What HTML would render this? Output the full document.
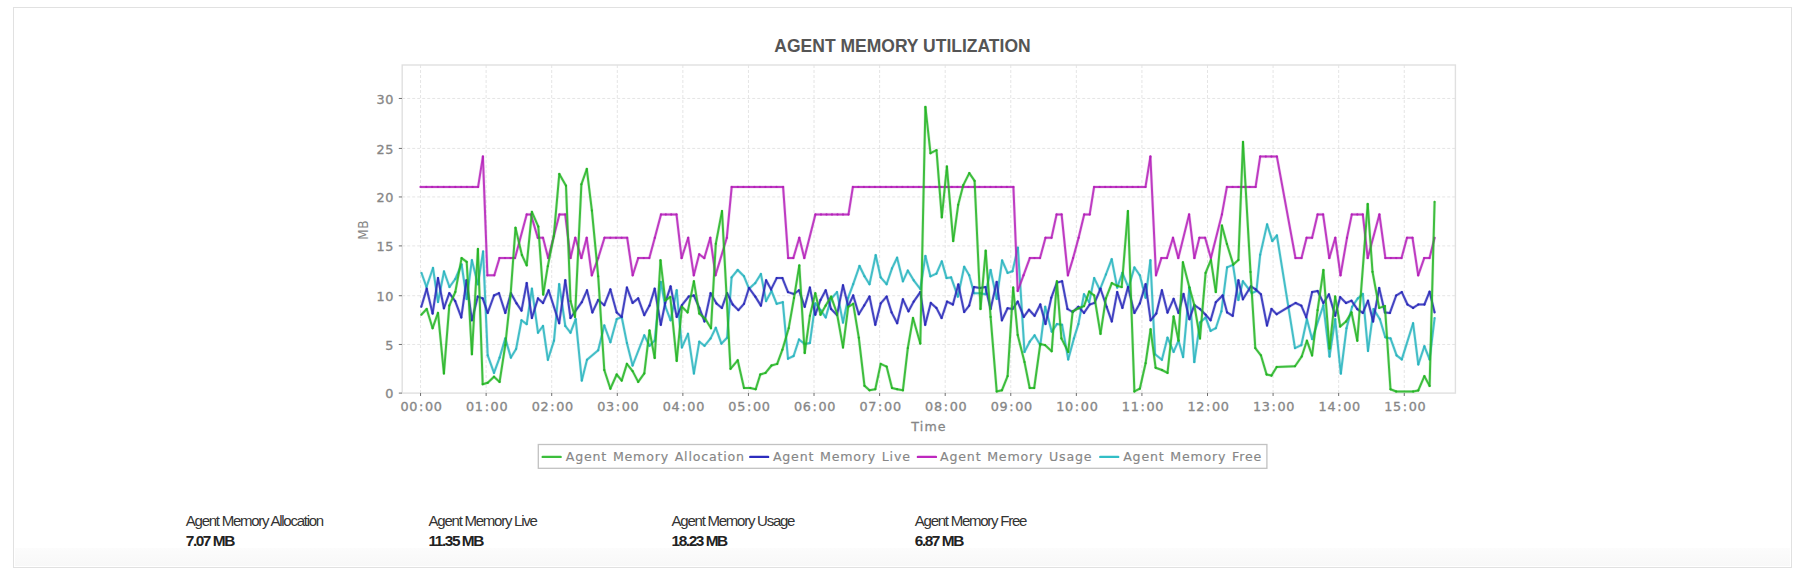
<!DOCTYPE html>
<html><head><meta charset="utf-8"><title>Agent Memory Utilization</title>
<style>
html,body{margin:0;padding:0;background:#fff;}
body{width:1804px;height:580px;position:relative;overflow:hidden;}
.box{position:absolute;left:13px;top:7px;width:1777px;height:559px;border:1px solid #e1e1e1;background:#fff;}
.band{position:absolute;left:15px;top:548px;width:1775px;height:18px;background:linear-gradient(to bottom,#fcfcfc,#f8f8f8);}
</style></head><body>
<div class="box"></div>
<div class="band"></div>
<svg width="1804" height="580" viewBox="0 0 1804 580" style="position:absolute;left:0;top:0"><text x="902.5" y="51.6" text-anchor="middle" font-family="Liberation Sans, Arial, sans-serif" font-weight="bold" font-size="17.5" fill="#555">AGENT MEMORY UTILIZATION</text><g><g stroke="#e5e5e5" stroke-width="1" stroke-dasharray="3,2" fill="none"><line x1="402.2" y1="344.46" x2="1455.4" y2="344.46"/><line x1="402.2" y1="295.73" x2="1455.4" y2="295.73"/><line x1="402.2" y1="245.9" x2="1455.4" y2="245.9"/><line x1="402.2" y1="196.94" x2="1455.4" y2="196.94"/><line x1="402.2" y1="148.42" x2="1455.4" y2="148.42"/><line x1="402.2" y1="98.46" x2="1455.4" y2="98.46"/><line x1="420.55" y1="65.0" x2="420.55" y2="393.1"/><line x1="486.13" y1="65.0" x2="486.13" y2="393.1"/><line x1="551.71" y1="65.0" x2="551.71" y2="393.1"/><line x1="617.29" y1="65.0" x2="617.29" y2="393.1"/><line x1="682.87" y1="65.0" x2="682.87" y2="393.1"/><line x1="748.45" y1="65.0" x2="748.45" y2="393.1"/><line x1="814.03" y1="65.0" x2="814.03" y2="393.1"/><line x1="879.61" y1="65.0" x2="879.61" y2="393.1"/><line x1="945.19" y1="65.0" x2="945.19" y2="393.1"/><line x1="1010.77" y1="65.0" x2="1010.77" y2="393.1"/><line x1="1076.35" y1="65.0" x2="1076.35" y2="393.1"/><line x1="1141.93" y1="65.0" x2="1141.93" y2="393.1"/><line x1="1207.51" y1="65.0" x2="1207.51" y2="393.1"/><line x1="1273.09" y1="65.0" x2="1273.09" y2="393.1"/><line x1="1338.67" y1="65.0" x2="1338.67" y2="393.1"/><line x1="1404.25" y1="65.0" x2="1404.25" y2="393.1"/></g><rect x="402.2" y="65.0" width="1053.2" height="328.1" fill="none" stroke="#e0e0e0" stroke-width="1.4"/><g stroke="#707070" stroke-width="1"><line x1="398.8" y1="393.1" x2="402" y2="393.1"/><line x1="398.8" y1="344.46" x2="402" y2="344.46"/><line x1="398.8" y1="295.73" x2="402" y2="295.73"/><line x1="398.8" y1="245.9" x2="402" y2="245.9"/><line x1="398.8" y1="196.94" x2="402" y2="196.94"/><line x1="398.8" y1="148.42" x2="402" y2="148.42"/><line x1="398.8" y1="98.46" x2="402" y2="98.46"/><line x1="420.55" y1="393" x2="420.55" y2="396"/><line x1="486.13" y1="393" x2="486.13" y2="396"/><line x1="551.71" y1="393" x2="551.71" y2="396"/><line x1="617.29" y1="393" x2="617.29" y2="396"/><line x1="682.87" y1="393" x2="682.87" y2="396"/><line x1="748.45" y1="393" x2="748.45" y2="396"/><line x1="814.03" y1="393" x2="814.03" y2="396"/><line x1="879.61" y1="393" x2="879.61" y2="396"/><line x1="945.19" y1="393" x2="945.19" y2="396"/><line x1="1010.77" y1="393" x2="1010.77" y2="396"/><line x1="1076.35" y1="393" x2="1076.35" y2="396"/><line x1="1141.93" y1="393" x2="1141.93" y2="396"/><line x1="1207.51" y1="393" x2="1207.51" y2="396"/><line x1="1273.09" y1="393" x2="1273.09" y2="396"/><line x1="1338.67" y1="393" x2="1338.67" y2="396"/><line x1="1404.25" y1="393" x2="1404.25" y2="396"/></g><g font-family="DejaVu Sans, sans-serif" stroke="#868686" stroke-width="0.3"><text transform="translate(393.98,398.40) scale(1.1,1)" text-anchor="end" font-size="11.6" fill="#868686" letter-spacing="0.62" >0</text><text transform="translate(393.98,349.76) scale(1.1,1)" text-anchor="end" font-size="11.6" fill="#868686" letter-spacing="0.62" >5</text><text transform="translate(393.98,301.03) scale(1.1,1)" text-anchor="end" font-size="11.6" fill="#868686" letter-spacing="0.62" >10</text><text transform="translate(393.98,251.20) scale(1.1,1)" text-anchor="end" font-size="11.6" fill="#868686" letter-spacing="0.62" >15</text><text transform="translate(393.98,202.24) scale(1.1,1)" text-anchor="end" font-size="11.6" fill="#868686" letter-spacing="0.62" >20</text><text transform="translate(393.98,153.72) scale(1.1,1)" text-anchor="end" font-size="11.6" fill="#868686" letter-spacing="0.62" >25</text><text transform="translate(393.98,103.76) scale(1.1,1)" text-anchor="end" font-size="11.6" fill="#868686" letter-spacing="0.62" >30</text><text transform="translate(421.55,410.60) scale(1.1,1)" text-anchor="middle" font-size="11.6" fill="#868686" letter-spacing="0.62" >00<tspan dx="0.9">:</tspan><tspan dx="0.9">00</tspan></text><text transform="translate(487.13,410.60) scale(1.1,1)" text-anchor="middle" font-size="11.6" fill="#868686" letter-spacing="0.62" >01<tspan dx="0.9">:</tspan><tspan dx="0.9">00</tspan></text><text transform="translate(552.71,410.60) scale(1.1,1)" text-anchor="middle" font-size="11.6" fill="#868686" letter-spacing="0.62" >02<tspan dx="0.9">:</tspan><tspan dx="0.9">00</tspan></text><text transform="translate(618.29,410.60) scale(1.1,1)" text-anchor="middle" font-size="11.6" fill="#868686" letter-spacing="0.62" >03<tspan dx="0.9">:</tspan><tspan dx="0.9">00</tspan></text><text transform="translate(683.87,410.60) scale(1.1,1)" text-anchor="middle" font-size="11.6" fill="#868686" letter-spacing="0.62" >04<tspan dx="0.9">:</tspan><tspan dx="0.9">00</tspan></text><text transform="translate(749.45,410.60) scale(1.1,1)" text-anchor="middle" font-size="11.6" fill="#868686" letter-spacing="0.62" >05<tspan dx="0.9">:</tspan><tspan dx="0.9">00</tspan></text><text transform="translate(815.03,410.60) scale(1.1,1)" text-anchor="middle" font-size="11.6" fill="#868686" letter-spacing="0.62" >06<tspan dx="0.9">:</tspan><tspan dx="0.9">00</tspan></text><text transform="translate(880.61,410.60) scale(1.1,1)" text-anchor="middle" font-size="11.6" fill="#868686" letter-spacing="0.62" >07<tspan dx="0.9">:</tspan><tspan dx="0.9">00</tspan></text><text transform="translate(946.19,410.60) scale(1.1,1)" text-anchor="middle" font-size="11.6" fill="#868686" letter-spacing="0.62" >08<tspan dx="0.9">:</tspan><tspan dx="0.9">00</tspan></text><text transform="translate(1011.77,410.60) scale(1.1,1)" text-anchor="middle" font-size="11.6" fill="#868686" letter-spacing="0.62" >09<tspan dx="0.9">:</tspan><tspan dx="0.9">00</tspan></text><text transform="translate(1077.35,410.60) scale(1.1,1)" text-anchor="middle" font-size="11.6" fill="#868686" letter-spacing="0.62" >10<tspan dx="0.9">:</tspan><tspan dx="0.9">00</tspan></text><text transform="translate(1142.93,410.60) scale(1.1,1)" text-anchor="middle" font-size="11.6" fill="#868686" letter-spacing="0.62" >11<tspan dx="0.9">:</tspan><tspan dx="0.9">00</tspan></text><text transform="translate(1208.51,410.60) scale(1.1,1)" text-anchor="middle" font-size="11.6" fill="#868686" letter-spacing="0.62" >12<tspan dx="0.9">:</tspan><tspan dx="0.9">00</tspan></text><text transform="translate(1274.09,410.60) scale(1.1,1)" text-anchor="middle" font-size="11.6" fill="#868686" letter-spacing="0.62" >13<tspan dx="0.9">:</tspan><tspan dx="0.9">00</tspan></text><text transform="translate(1339.67,410.60) scale(1.1,1)" text-anchor="middle" font-size="11.6" fill="#868686" letter-spacing="0.62" >14<tspan dx="0.9">:</tspan><tspan dx="0.9">00</tspan></text><text transform="translate(1405.25,410.60) scale(1.1,1)" text-anchor="middle" font-size="11.6" fill="#868686" letter-spacing="0.62" >15<tspan dx="0.9">:</tspan><tspan dx="0.9">00</tspan></text><text transform="translate(929.00,430.90) scale(1.0,1)" text-anchor="middle" font-size="12.6" fill="#868686" letter-spacing="1.15" >Time</text></g><text transform="translate(367.6,229.8) scale(1.1,1) rotate(-90)" text-anchor="middle" font-family="DejaVu Sans, sans-serif" font-size="12.1" fill="#868686" letter-spacing="0.62">MB</text><polyline points="421.5,273.0 426.5,287.0 433.0,268.0 438.0,302.0 444.0,271.5 449.5,287.0 455.3,279.0 461.6,264.5 466.7,299.0 471.9,260.2 477.9,284.3 483.1,251.6 487.7,355.3 494.0,372.9 499.6,357.6 505.3,338.4 510.9,357.6 516.1,349.0 521.5,320.3 526.7,324.1 531.9,288.7 538.0,332.7 543.0,326.0 547.9,359.8 554.0,340.6 559.2,284.2 565.3,326.0 570.5,332.7 575.7,319.2 581.8,380.6 587.0,359.8 598.2,350.3 604.3,325.5 610.4,342.2 616.7,319.2 621.7,317.0 626.9,342.9 632.6,365.5 644.3,335.4 649.5,345.8 654.7,340.6 660.8,281.9 665.2,306.0 670.6,320.3 676.7,290.3 681.9,347.4 688.0,333.8 693.9,373.4 699.3,341.7 704.5,345.8 710.6,338.4 715.8,327.8 721.4,343.6 727.1,337.7 731.6,277.4 737.7,270.0 744.0,276.3 749.0,288.7 755.3,283.1 760.9,274.0 766.1,301.1 771.5,291.0 776.7,303.8 782.8,302.2 788.0,358.7 793.6,356.0 799.0,339.5 804.7,344.0 809.9,342.9 815.3,303.4 820.5,310.0 825.7,317.4 831.1,298.9 837.0,292.1 843.0,322.6 848.2,297.7 853.2,284.2 859.5,266.0 864.5,276.3 869.5,284.2 875.7,255.2 880.7,277.4 886.6,284.2 892.0,268.4 897.1,257.7 902.9,281.3 907.8,270.6 913.7,280.3 920.3,289.0 925.4,256.0 930.4,276.3 936.4,273.6 941.8,261.4 946.6,278.1 951.1,277.4 957.9,296.6 964.2,266.8 969.2,275.2 974.1,293.2 980.0,293.2 985.4,294.3 990.6,270.0 996.7,298.9 1002.1,260.5 1007.6,272.9 1012.5,271.3 1017.9,247.7 1024.5,351.9 1029.7,341.7 1034.6,335.4 1040.3,345.1 1045.2,306.8 1051.7,331.6 1056.9,324.1 1062.1,324.8 1068.2,359.4 1073.9,338.4 1078.4,324.1 1084.0,294.3 1089.2,302.2 1094.2,278.1 1099.8,289.8 1105.9,274.5 1111.7,259.2 1117.2,287.6 1122.4,272.9 1128.5,287.6 1134.4,267.5 1139.8,275.2 1145.6,297.7 1150.4,260.3 1155.1,354.2 1161.9,359.8 1167.5,337.7 1173.6,351.9 1178.5,340.6 1183.1,357.1 1189.4,287.6 1194.3,362.1 1200.0,322.6 1205.6,317.4 1210.6,330.9 1215.8,328.2 1221.4,311.3 1227.1,267.3 1233.0,264.8 1238.4,300.0 1242.9,281.3 1251.9,293.2 1256.4,291.0 1260.2,254.7 1267.1,224.4 1272.3,241.0 1276.9,235.5 1295.0,348.1 1301.3,345.2 1306.9,319.2 1312.1,339.1 1323.4,305.2 1329.5,356.5 1335.2,319.2 1340.8,373.5 1346.5,328.3 1352.1,306.8 1357.8,298.4 1362.8,293.9 1368.0,350.9 1373.6,309.1 1379.9,319.2 1385.3,337.3 1390.5,338.4 1396.6,355.4 1401.8,359.4 1413.1,323.3 1418.3,364.4 1424.4,346.3 1429.6,359.4 1434.6,318.1" fill="none" stroke="#28b4be" stroke-opacity="0.16" stroke-width="3.2" stroke-linejoin="round"/><g stroke="#28b4be" stroke-width="2" stroke-opacity="0.85" stroke-linecap="round" fill="none"><line x1="421.5" y1="273.0" x2="426.5" y2="287.0"/><line x1="426.5" y1="287.0" x2="433.0" y2="268.0"/><line x1="433.0" y1="268.0" x2="438.0" y2="302.0"/><line x1="438.0" y1="302.0" x2="444.0" y2="271.5"/><line x1="444.0" y1="271.5" x2="449.5" y2="287.0"/><line x1="449.5" y1="287.0" x2="455.3" y2="279.0"/><line x1="455.3" y1="279.0" x2="461.6" y2="264.5"/><line x1="461.6" y1="264.5" x2="466.7" y2="299.0"/><line x1="466.7" y1="299.0" x2="471.9" y2="260.2"/><line x1="471.9" y1="260.2" x2="477.9" y2="284.3"/><line x1="477.9" y1="284.3" x2="483.1" y2="251.6"/><line x1="483.1" y1="251.6" x2="487.7" y2="355.3"/><line x1="487.7" y1="355.3" x2="494.0" y2="372.9"/><line x1="494.0" y1="372.9" x2="499.6" y2="357.6"/><line x1="499.6" y1="357.6" x2="505.3" y2="338.4"/><line x1="505.3" y1="338.4" x2="510.9" y2="357.6"/><line x1="510.9" y1="357.6" x2="516.1" y2="349.0"/><line x1="516.1" y1="349.0" x2="521.5" y2="320.3"/><line x1="521.5" y1="320.3" x2="526.7" y2="324.1"/><line x1="526.7" y1="324.1" x2="531.9" y2="288.7"/><line x1="531.9" y1="288.7" x2="538.0" y2="332.7"/><line x1="538.0" y1="332.7" x2="543.0" y2="326.0"/><line x1="543.0" y1="326.0" x2="547.9" y2="359.8"/><line x1="547.9" y1="359.8" x2="554.0" y2="340.6"/><line x1="554.0" y1="340.6" x2="559.2" y2="284.2"/><line x1="559.2" y1="284.2" x2="565.3" y2="326.0"/><line x1="565.3" y1="326.0" x2="570.5" y2="332.7"/><line x1="570.5" y1="332.7" x2="575.7" y2="319.2"/><line x1="575.7" y1="319.2" x2="581.8" y2="380.6"/><line x1="581.8" y1="380.6" x2="587.0" y2="359.8"/><line x1="587.0" y1="359.8" x2="598.2" y2="350.3"/><line x1="598.2" y1="350.3" x2="604.3" y2="325.5"/><line x1="604.3" y1="325.5" x2="610.4" y2="342.2"/><line x1="610.4" y1="342.2" x2="616.7" y2="319.2"/><line x1="616.7" y1="319.2" x2="621.7" y2="317.0"/><line x1="621.7" y1="317.0" x2="626.9" y2="342.9"/><line x1="626.9" y1="342.9" x2="632.6" y2="365.5"/><line x1="632.6" y1="365.5" x2="644.3" y2="335.4"/><line x1="644.3" y1="335.4" x2="649.5" y2="345.8"/><line x1="649.5" y1="345.8" x2="654.7" y2="340.6"/><line x1="654.7" y1="340.6" x2="660.8" y2="281.9"/><line x1="660.8" y1="281.9" x2="665.2" y2="306.0"/><line x1="665.2" y1="306.0" x2="670.6" y2="320.3"/><line x1="670.6" y1="320.3" x2="676.7" y2="290.3"/><line x1="676.7" y1="290.3" x2="681.9" y2="347.4"/><line x1="681.9" y1="347.4" x2="688.0" y2="333.8"/><line x1="688.0" y1="333.8" x2="693.9" y2="373.4"/><line x1="693.9" y1="373.4" x2="699.3" y2="341.7"/><line x1="699.3" y1="341.7" x2="704.5" y2="345.8"/><line x1="704.5" y1="345.8" x2="710.6" y2="338.4"/><line x1="710.6" y1="338.4" x2="715.8" y2="327.8"/><line x1="715.8" y1="327.8" x2="721.4" y2="343.6"/><line x1="721.4" y1="343.6" x2="727.1" y2="337.7"/><line x1="727.1" y1="337.7" x2="731.6" y2="277.4"/><line x1="731.6" y1="277.4" x2="737.7" y2="270.0"/><line x1="737.7" y1="270.0" x2="744.0" y2="276.3"/><line x1="744.0" y1="276.3" x2="749.0" y2="288.7"/><line x1="749.0" y1="288.7" x2="755.3" y2="283.1"/><line x1="755.3" y1="283.1" x2="760.9" y2="274.0"/><line x1="760.9" y1="274.0" x2="766.1" y2="301.1"/><line x1="766.1" y1="301.1" x2="771.5" y2="291.0"/><line x1="771.5" y1="291.0" x2="776.7" y2="303.8"/><line x1="776.7" y1="303.8" x2="782.8" y2="302.2"/><line x1="782.8" y1="302.2" x2="788.0" y2="358.7"/><line x1="788.0" y1="358.7" x2="793.6" y2="356.0"/><line x1="793.6" y1="356.0" x2="799.0" y2="339.5"/><line x1="799.0" y1="339.5" x2="804.7" y2="344.0"/><line x1="804.7" y1="344.0" x2="809.9" y2="342.9"/><line x1="809.9" y1="342.9" x2="815.3" y2="303.4"/><line x1="815.3" y1="303.4" x2="820.5" y2="310.0"/><line x1="820.5" y1="310.0" x2="825.7" y2="317.4"/><line x1="825.7" y1="317.4" x2="831.1" y2="298.9"/><line x1="831.1" y1="298.9" x2="837.0" y2="292.1"/><line x1="837.0" y1="292.1" x2="843.0" y2="322.6"/><line x1="843.0" y1="322.6" x2="848.2" y2="297.7"/><line x1="848.2" y1="297.7" x2="853.2" y2="284.2"/><line x1="853.2" y1="284.2" x2="859.5" y2="266.0"/><line x1="859.5" y1="266.0" x2="864.5" y2="276.3"/><line x1="864.5" y1="276.3" x2="869.5" y2="284.2"/><line x1="869.5" y1="284.2" x2="875.7" y2="255.2"/><line x1="875.7" y1="255.2" x2="880.7" y2="277.4"/><line x1="880.7" y1="277.4" x2="886.6" y2="284.2"/><line x1="886.6" y1="284.2" x2="892.0" y2="268.4"/><line x1="892.0" y1="268.4" x2="897.1" y2="257.7"/><line x1="897.1" y1="257.7" x2="902.9" y2="281.3"/><line x1="902.9" y1="281.3" x2="907.8" y2="270.6"/><line x1="907.8" y1="270.6" x2="913.7" y2="280.3"/><line x1="913.7" y1="280.3" x2="920.3" y2="289.0"/><line x1="920.3" y1="289.0" x2="925.4" y2="256.0"/><line x1="925.4" y1="256.0" x2="930.4" y2="276.3"/><line x1="930.4" y1="276.3" x2="936.4" y2="273.6"/><line x1="936.4" y1="273.6" x2="941.8" y2="261.4"/><line x1="941.8" y1="261.4" x2="946.6" y2="278.1"/><line x1="946.6" y1="278.1" x2="951.1" y2="277.4"/><line x1="951.1" y1="277.4" x2="957.9" y2="296.6"/><line x1="957.9" y1="296.6" x2="964.2" y2="266.8"/><line x1="964.2" y1="266.8" x2="969.2" y2="275.2"/><line x1="969.2" y1="275.2" x2="974.1" y2="293.2"/><line x1="974.1" y1="293.2" x2="980.0" y2="293.2"/><line x1="980.0" y1="293.2" x2="985.4" y2="294.3"/><line x1="985.4" y1="294.3" x2="990.6" y2="270.0"/><line x1="990.6" y1="270.0" x2="996.7" y2="298.9"/><line x1="996.7" y1="298.9" x2="1002.1" y2="260.5"/><line x1="1002.1" y1="260.5" x2="1007.6" y2="272.9"/><line x1="1007.6" y1="272.9" x2="1012.5" y2="271.3"/><line x1="1012.5" y1="271.3" x2="1017.9" y2="247.7"/><line x1="1017.9" y1="247.7" x2="1024.5" y2="351.9"/><line x1="1024.5" y1="351.9" x2="1029.7" y2="341.7"/><line x1="1029.7" y1="341.7" x2="1034.6" y2="335.4"/><line x1="1034.6" y1="335.4" x2="1040.3" y2="345.1"/><line x1="1040.3" y1="345.1" x2="1045.2" y2="306.8"/><line x1="1045.2" y1="306.8" x2="1051.7" y2="331.6"/><line x1="1051.7" y1="331.6" x2="1056.9" y2="324.1"/><line x1="1056.9" y1="324.1" x2="1062.1" y2="324.8"/><line x1="1062.1" y1="324.8" x2="1068.2" y2="359.4"/><line x1="1068.2" y1="359.4" x2="1073.9" y2="338.4"/><line x1="1073.9" y1="338.4" x2="1078.4" y2="324.1"/><line x1="1078.4" y1="324.1" x2="1084.0" y2="294.3"/><line x1="1084.0" y1="294.3" x2="1089.2" y2="302.2"/><line x1="1089.2" y1="302.2" x2="1094.2" y2="278.1"/><line x1="1094.2" y1="278.1" x2="1099.8" y2="289.8"/><line x1="1099.8" y1="289.8" x2="1105.9" y2="274.5"/><line x1="1105.9" y1="274.5" x2="1111.7" y2="259.2"/><line x1="1111.7" y1="259.2" x2="1117.2" y2="287.6"/><line x1="1117.2" y1="287.6" x2="1122.4" y2="272.9"/><line x1="1122.4" y1="272.9" x2="1128.5" y2="287.6"/><line x1="1128.5" y1="287.6" x2="1134.4" y2="267.5"/><line x1="1134.4" y1="267.5" x2="1139.8" y2="275.2"/><line x1="1139.8" y1="275.2" x2="1145.6" y2="297.7"/><line x1="1145.6" y1="297.7" x2="1150.4" y2="260.3"/><line x1="1150.4" y1="260.3" x2="1155.1" y2="354.2"/><line x1="1155.1" y1="354.2" x2="1161.9" y2="359.8"/><line x1="1161.9" y1="359.8" x2="1167.5" y2="337.7"/><line x1="1167.5" y1="337.7" x2="1173.6" y2="351.9"/><line x1="1173.6" y1="351.9" x2="1178.5" y2="340.6"/><line x1="1178.5" y1="340.6" x2="1183.1" y2="357.1"/><line x1="1183.1" y1="357.1" x2="1189.4" y2="287.6"/><line x1="1189.4" y1="287.6" x2="1194.3" y2="362.1"/><line x1="1194.3" y1="362.1" x2="1200.0" y2="322.6"/><line x1="1200.0" y1="322.6" x2="1205.6" y2="317.4"/><line x1="1205.6" y1="317.4" x2="1210.6" y2="330.9"/><line x1="1210.6" y1="330.9" x2="1215.8" y2="328.2"/><line x1="1215.8" y1="328.2" x2="1221.4" y2="311.3"/><line x1="1221.4" y1="311.3" x2="1227.1" y2="267.3"/><line x1="1227.1" y1="267.3" x2="1233.0" y2="264.8"/><line x1="1233.0" y1="264.8" x2="1238.4" y2="300.0"/><line x1="1238.4" y1="300.0" x2="1242.9" y2="281.3"/><line x1="1242.9" y1="281.3" x2="1251.9" y2="293.2"/><line x1="1251.9" y1="293.2" x2="1256.4" y2="291.0"/><line x1="1256.4" y1="291.0" x2="1260.2" y2="254.7"/><line x1="1260.2" y1="254.7" x2="1267.1" y2="224.4"/><line x1="1267.1" y1="224.4" x2="1272.3" y2="241.0"/><line x1="1272.3" y1="241.0" x2="1276.9" y2="235.5"/><line x1="1276.9" y1="235.5" x2="1295.0" y2="348.1"/><line x1="1295.0" y1="348.1" x2="1301.3" y2="345.2"/><line x1="1301.3" y1="345.2" x2="1306.9" y2="319.2"/><line x1="1306.9" y1="319.2" x2="1312.1" y2="339.1"/><line x1="1312.1" y1="339.1" x2="1323.4" y2="305.2"/><line x1="1323.4" y1="305.2" x2="1329.5" y2="356.5"/><line x1="1329.5" y1="356.5" x2="1335.2" y2="319.2"/><line x1="1335.2" y1="319.2" x2="1340.8" y2="373.5"/><line x1="1340.8" y1="373.5" x2="1346.5" y2="328.3"/><line x1="1346.5" y1="328.3" x2="1352.1" y2="306.8"/><line x1="1352.1" y1="306.8" x2="1357.8" y2="298.4"/><line x1="1357.8" y1="298.4" x2="1362.8" y2="293.9"/><line x1="1362.8" y1="293.9" x2="1368.0" y2="350.9"/><line x1="1368.0" y1="350.9" x2="1373.6" y2="309.1"/><line x1="1373.6" y1="309.1" x2="1379.9" y2="319.2"/><line x1="1379.9" y1="319.2" x2="1385.3" y2="337.3"/><line x1="1385.3" y1="337.3" x2="1390.5" y2="338.4"/><line x1="1390.5" y1="338.4" x2="1396.6" y2="355.4"/><line x1="1396.6" y1="355.4" x2="1401.8" y2="359.4"/><line x1="1401.8" y1="359.4" x2="1413.1" y2="323.3"/><line x1="1413.1" y1="323.3" x2="1418.3" y2="364.4"/><line x1="1418.3" y1="364.4" x2="1424.4" y2="346.3"/><line x1="1424.4" y1="346.3" x2="1429.6" y2="359.4"/><line x1="1429.6" y1="359.4" x2="1434.6" y2="318.1"/></g><g fill="#28b4be" fill-opacity="0.45"><circle cx="421.5" cy="273.0" r="1.15"/><circle cx="426.5" cy="287.0" r="1.15"/><circle cx="433.0" cy="268.0" r="1.15"/><circle cx="438.0" cy="302.0" r="1.15"/><circle cx="444.0" cy="271.5" r="1.15"/><circle cx="449.5" cy="287.0" r="1.15"/><circle cx="455.3" cy="279.0" r="1.15"/><circle cx="461.6" cy="264.5" r="1.15"/><circle cx="466.7" cy="299.0" r="1.15"/><circle cx="471.9" cy="260.2" r="1.15"/><circle cx="477.9" cy="284.3" r="1.15"/><circle cx="483.1" cy="251.6" r="1.15"/><circle cx="487.7" cy="355.3" r="1.15"/><circle cx="494.0" cy="372.9" r="1.15"/><circle cx="499.6" cy="357.6" r="1.15"/><circle cx="505.3" cy="338.4" r="1.15"/><circle cx="510.9" cy="357.6" r="1.15"/><circle cx="516.1" cy="349.0" r="1.15"/><circle cx="521.5" cy="320.3" r="1.15"/><circle cx="526.7" cy="324.1" r="1.15"/><circle cx="531.9" cy="288.7" r="1.15"/><circle cx="538.0" cy="332.7" r="1.15"/><circle cx="543.0" cy="326.0" r="1.15"/><circle cx="547.9" cy="359.8" r="1.15"/><circle cx="554.0" cy="340.6" r="1.15"/><circle cx="559.2" cy="284.2" r="1.15"/><circle cx="565.3" cy="326.0" r="1.15"/><circle cx="570.5" cy="332.7" r="1.15"/><circle cx="575.7" cy="319.2" r="1.15"/><circle cx="581.8" cy="380.6" r="1.15"/><circle cx="587.0" cy="359.8" r="1.15"/><circle cx="598.2" cy="350.3" r="1.15"/><circle cx="604.3" cy="325.5" r="1.15"/><circle cx="610.4" cy="342.2" r="1.15"/><circle cx="616.7" cy="319.2" r="1.15"/><circle cx="621.7" cy="317.0" r="1.15"/><circle cx="626.9" cy="342.9" r="1.15"/><circle cx="632.6" cy="365.5" r="1.15"/><circle cx="644.3" cy="335.4" r="1.15"/><circle cx="649.5" cy="345.8" r="1.15"/><circle cx="654.7" cy="340.6" r="1.15"/><circle cx="660.8" cy="281.9" r="1.15"/><circle cx="665.2" cy="306.0" r="1.15"/><circle cx="670.6" cy="320.3" r="1.15"/><circle cx="676.7" cy="290.3" r="1.15"/><circle cx="681.9" cy="347.4" r="1.15"/><circle cx="688.0" cy="333.8" r="1.15"/><circle cx="693.9" cy="373.4" r="1.15"/><circle cx="699.3" cy="341.7" r="1.15"/><circle cx="704.5" cy="345.8" r="1.15"/><circle cx="710.6" cy="338.4" r="1.15"/><circle cx="715.8" cy="327.8" r="1.15"/><circle cx="721.4" cy="343.6" r="1.15"/><circle cx="727.1" cy="337.7" r="1.15"/><circle cx="731.6" cy="277.4" r="1.15"/><circle cx="737.7" cy="270.0" r="1.15"/><circle cx="744.0" cy="276.3" r="1.15"/><circle cx="749.0" cy="288.7" r="1.15"/><circle cx="755.3" cy="283.1" r="1.15"/><circle cx="760.9" cy="274.0" r="1.15"/><circle cx="766.1" cy="301.1" r="1.15"/><circle cx="771.5" cy="291.0" r="1.15"/><circle cx="776.7" cy="303.8" r="1.15"/><circle cx="782.8" cy="302.2" r="1.15"/><circle cx="788.0" cy="358.7" r="1.15"/><circle cx="793.6" cy="356.0" r="1.15"/><circle cx="799.0" cy="339.5" r="1.15"/><circle cx="804.7" cy="344.0" r="1.15"/><circle cx="809.9" cy="342.9" r="1.15"/><circle cx="815.3" cy="303.4" r="1.15"/><circle cx="820.5" cy="310.0" r="1.15"/><circle cx="825.7" cy="317.4" r="1.15"/><circle cx="831.1" cy="298.9" r="1.15"/><circle cx="837.0" cy="292.1" r="1.15"/><circle cx="843.0" cy="322.6" r="1.15"/><circle cx="848.2" cy="297.7" r="1.15"/><circle cx="853.2" cy="284.2" r="1.15"/><circle cx="859.5" cy="266.0" r="1.15"/><circle cx="864.5" cy="276.3" r="1.15"/><circle cx="869.5" cy="284.2" r="1.15"/><circle cx="875.7" cy="255.2" r="1.15"/><circle cx="880.7" cy="277.4" r="1.15"/><circle cx="886.6" cy="284.2" r="1.15"/><circle cx="892.0" cy="268.4" r="1.15"/><circle cx="897.1" cy="257.7" r="1.15"/><circle cx="902.9" cy="281.3" r="1.15"/><circle cx="907.8" cy="270.6" r="1.15"/><circle cx="913.7" cy="280.3" r="1.15"/><circle cx="920.3" cy="289.0" r="1.15"/><circle cx="925.4" cy="256.0" r="1.15"/><circle cx="930.4" cy="276.3" r="1.15"/><circle cx="936.4" cy="273.6" r="1.15"/><circle cx="941.8" cy="261.4" r="1.15"/><circle cx="946.6" cy="278.1" r="1.15"/><circle cx="951.1" cy="277.4" r="1.15"/><circle cx="957.9" cy="296.6" r="1.15"/><circle cx="964.2" cy="266.8" r="1.15"/><circle cx="969.2" cy="275.2" r="1.15"/><circle cx="974.1" cy="293.2" r="1.15"/><circle cx="980.0" cy="293.2" r="1.15"/><circle cx="985.4" cy="294.3" r="1.15"/><circle cx="990.6" cy="270.0" r="1.15"/><circle cx="996.7" cy="298.9" r="1.15"/><circle cx="1002.1" cy="260.5" r="1.15"/><circle cx="1007.6" cy="272.9" r="1.15"/><circle cx="1012.5" cy="271.3" r="1.15"/><circle cx="1017.9" cy="247.7" r="1.15"/><circle cx="1024.5" cy="351.9" r="1.15"/><circle cx="1029.7" cy="341.7" r="1.15"/><circle cx="1034.6" cy="335.4" r="1.15"/><circle cx="1040.3" cy="345.1" r="1.15"/><circle cx="1045.2" cy="306.8" r="1.15"/><circle cx="1051.7" cy="331.6" r="1.15"/><circle cx="1056.9" cy="324.1" r="1.15"/><circle cx="1062.1" cy="324.8" r="1.15"/><circle cx="1068.2" cy="359.4" r="1.15"/><circle cx="1073.9" cy="338.4" r="1.15"/><circle cx="1078.4" cy="324.1" r="1.15"/><circle cx="1084.0" cy="294.3" r="1.15"/><circle cx="1089.2" cy="302.2" r="1.15"/><circle cx="1094.2" cy="278.1" r="1.15"/><circle cx="1099.8" cy="289.8" r="1.15"/><circle cx="1105.9" cy="274.5" r="1.15"/><circle cx="1111.7" cy="259.2" r="1.15"/><circle cx="1117.2" cy="287.6" r="1.15"/><circle cx="1122.4" cy="272.9" r="1.15"/><circle cx="1128.5" cy="287.6" r="1.15"/><circle cx="1134.4" cy="267.5" r="1.15"/><circle cx="1139.8" cy="275.2" r="1.15"/><circle cx="1145.6" cy="297.7" r="1.15"/><circle cx="1150.4" cy="260.3" r="1.15"/><circle cx="1155.1" cy="354.2" r="1.15"/><circle cx="1161.9" cy="359.8" r="1.15"/><circle cx="1167.5" cy="337.7" r="1.15"/><circle cx="1173.6" cy="351.9" r="1.15"/><circle cx="1178.5" cy="340.6" r="1.15"/><circle cx="1183.1" cy="357.1" r="1.15"/><circle cx="1189.4" cy="287.6" r="1.15"/><circle cx="1194.3" cy="362.1" r="1.15"/><circle cx="1200.0" cy="322.6" r="1.15"/><circle cx="1205.6" cy="317.4" r="1.15"/><circle cx="1210.6" cy="330.9" r="1.15"/><circle cx="1215.8" cy="328.2" r="1.15"/><circle cx="1221.4" cy="311.3" r="1.15"/><circle cx="1227.1" cy="267.3" r="1.15"/><circle cx="1233.0" cy="264.8" r="1.15"/><circle cx="1238.4" cy="300.0" r="1.15"/><circle cx="1242.9" cy="281.3" r="1.15"/><circle cx="1251.9" cy="293.2" r="1.15"/><circle cx="1256.4" cy="291.0" r="1.15"/><circle cx="1260.2" cy="254.7" r="1.15"/><circle cx="1267.1" cy="224.4" r="1.15"/><circle cx="1272.3" cy="241.0" r="1.15"/><circle cx="1276.9" cy="235.5" r="1.15"/><circle cx="1295.0" cy="348.1" r="1.15"/><circle cx="1301.3" cy="345.2" r="1.15"/><circle cx="1306.9" cy="319.2" r="1.15"/><circle cx="1312.1" cy="339.1" r="1.15"/><circle cx="1323.4" cy="305.2" r="1.15"/><circle cx="1329.5" cy="356.5" r="1.15"/><circle cx="1335.2" cy="319.2" r="1.15"/><circle cx="1340.8" cy="373.5" r="1.15"/><circle cx="1346.5" cy="328.3" r="1.15"/><circle cx="1352.1" cy="306.8" r="1.15"/><circle cx="1357.8" cy="298.4" r="1.15"/><circle cx="1362.8" cy="293.9" r="1.15"/><circle cx="1368.0" cy="350.9" r="1.15"/><circle cx="1373.6" cy="309.1" r="1.15"/><circle cx="1379.9" cy="319.2" r="1.15"/><circle cx="1385.3" cy="337.3" r="1.15"/><circle cx="1390.5" cy="338.4" r="1.15"/><circle cx="1396.6" cy="355.4" r="1.15"/><circle cx="1401.8" cy="359.4" r="1.15"/><circle cx="1413.1" cy="323.3" r="1.15"/><circle cx="1418.3" cy="364.4" r="1.15"/><circle cx="1424.4" cy="346.3" r="1.15"/><circle cx="1429.6" cy="359.4" r="1.15"/><circle cx="1434.6" cy="318.1" r="1.15"/></g><polyline points="420.5,186.9 426.3,186.9 432.1,186.9 437.9,186.9 443.7,186.9 449.5,186.9 455.3,186.9 461.1,186.9 466.9,186.9 472.6,186.9 478.1,186.9 482.9,156.6 487.4,275.3 494.3,275.3 499.5,258.1 505.0,258.1 510.5,258.1 515.0,258.1 526.7,214.4 530.9,214.4 537.8,237.8 543.0,237.8 548.2,258.1 559.4,214.4 565.2,214.4 570.5,258.1 575.3,237.8 581.4,258.1 586.7,237.8 591.8,275.3 598.2,258.1 604.5,237.8 610.3,237.8 616.0,237.8 621.6,237.8 627.2,237.8 632.7,275.3 638.2,258.1 643.8,258.1 649.3,258.1 654.8,237.8 661.0,214.4 665.8,214.4 671.2,214.4 676.5,214.4 681.6,258.1 688.2,237.8 693.8,275.3 699.2,254.3 704.3,258.1 710.3,237.8 715.5,275.3 726.8,237.8 731.7,186.9 737.8,186.9 743.4,186.9 748.9,186.9 754.4,186.9 759.9,186.9 765.4,186.9 771.0,186.9 776.5,186.9 783.1,186.9 788.2,258.1 793.3,258.1 799.3,237.8 804.3,258.1 815.4,214.4 821.0,214.4 826.5,214.4 832.0,214.4 837.5,214.4 843.0,214.4 848.5,214.4 852.9,186.9 858.4,186.9 863.9,186.9 869.4,186.9 874.9,186.9 880.4,186.9 885.9,186.9 891.4,186.9 896.9,186.9 902.4,186.9 907.9,186.9 913.4,186.9 918.9,186.9 924.4,186.9 929.9,186.9 935.4,186.9 940.9,186.9 946.4,186.9 951.9,186.9 957.4,186.9 962.9,186.9 968.4,186.9 973.9,186.9 979.4,186.9 984.9,186.9 990.4,186.9 995.9,186.9 1001.4,186.9 1006.9,186.9 1013.4,186.9 1017.7,291.0 1023.5,275.3 1029.8,258.1 1034.5,258.1 1040.0,258.1 1045.5,237.8 1051.5,237.8 1056.6,214.4 1061.6,214.4 1067.9,275.3 1073.1,258.1 1078.6,237.8 1084.2,214.4 1089.7,214.4 1094.1,186.9 1099.6,186.9 1105.1,186.9 1110.6,186.9 1116.1,186.9 1121.6,186.9 1127.1,186.9 1132.6,186.9 1138.1,186.9 1145.5,186.9 1150.4,156.6 1156.0,275.3 1161.4,258.1 1166.9,258.1 1173.0,237.8 1178.3,258.1 1189.1,214.4 1194.4,258.1 1199.4,237.8 1205.1,237.8 1210.9,258.1 1221.9,214.4 1226.9,186.9 1232.6,186.9 1238.3,186.9 1244.0,186.9 1249.7,186.9 1255.6,186.9 1260.2,156.6 1265.8,156.6 1271.4,156.6 1276.9,156.6 1295.5,258.1 1301.5,258.1 1306.6,237.8 1312.1,237.8 1317.6,214.4 1323.1,214.4 1329.3,258.1 1335.3,237.8 1340.5,275.3 1347.0,237.8 1351.8,214.4 1357.3,214.4 1362.8,214.4 1367.7,258.1 1379.4,214.4 1385.4,258.1 1390.8,258.1 1396.2,258.1 1401.5,258.1 1407.0,237.8 1412.5,237.8 1418.2,275.3 1424.2,258.1 1429.5,258.1 1434.6,237.8" fill="none" stroke="#b41eb9" stroke-opacity="0.16" stroke-width="3.2" stroke-linejoin="round"/><g stroke="#b41eb9" stroke-width="2" stroke-opacity="0.85" stroke-linecap="round" fill="none"><line x1="420.5" y1="186.9" x2="426.3" y2="186.9"/><line x1="426.3" y1="186.9" x2="432.1" y2="186.9"/><line x1="432.1" y1="186.9" x2="437.9" y2="186.9"/><line x1="437.9" y1="186.9" x2="443.7" y2="186.9"/><line x1="443.7" y1="186.9" x2="449.5" y2="186.9"/><line x1="449.5" y1="186.9" x2="455.3" y2="186.9"/><line x1="455.3" y1="186.9" x2="461.1" y2="186.9"/><line x1="461.1" y1="186.9" x2="466.9" y2="186.9"/><line x1="466.9" y1="186.9" x2="472.6" y2="186.9"/><line x1="472.6" y1="186.9" x2="478.1" y2="186.9"/><line x1="478.1" y1="186.9" x2="482.9" y2="156.6"/><line x1="482.9" y1="156.6" x2="487.4" y2="275.3"/><line x1="487.4" y1="275.3" x2="494.3" y2="275.3"/><line x1="494.3" y1="275.3" x2="499.5" y2="258.1"/><line x1="499.5" y1="258.1" x2="505.0" y2="258.1"/><line x1="505.0" y1="258.1" x2="510.5" y2="258.1"/><line x1="510.5" y1="258.1" x2="515.0" y2="258.1"/><line x1="515.0" y1="258.1" x2="526.7" y2="214.4"/><line x1="526.7" y1="214.4" x2="530.9" y2="214.4"/><line x1="530.9" y1="214.4" x2="537.8" y2="237.8"/><line x1="537.8" y1="237.8" x2="543.0" y2="237.8"/><line x1="543.0" y1="237.8" x2="548.2" y2="258.1"/><line x1="548.2" y1="258.1" x2="559.4" y2="214.4"/><line x1="559.4" y1="214.4" x2="565.2" y2="214.4"/><line x1="565.2" y1="214.4" x2="570.5" y2="258.1"/><line x1="570.5" y1="258.1" x2="575.3" y2="237.8"/><line x1="575.3" y1="237.8" x2="581.4" y2="258.1"/><line x1="581.4" y1="258.1" x2="586.7" y2="237.8"/><line x1="586.7" y1="237.8" x2="591.8" y2="275.3"/><line x1="591.8" y1="275.3" x2="598.2" y2="258.1"/><line x1="598.2" y1="258.1" x2="604.5" y2="237.8"/><line x1="604.5" y1="237.8" x2="610.3" y2="237.8"/><line x1="610.3" y1="237.8" x2="616.0" y2="237.8"/><line x1="616.0" y1="237.8" x2="621.6" y2="237.8"/><line x1="621.6" y1="237.8" x2="627.2" y2="237.8"/><line x1="627.2" y1="237.8" x2="632.7" y2="275.3"/><line x1="632.7" y1="275.3" x2="638.2" y2="258.1"/><line x1="638.2" y1="258.1" x2="643.8" y2="258.1"/><line x1="643.8" y1="258.1" x2="649.3" y2="258.1"/><line x1="649.3" y1="258.1" x2="654.8" y2="237.8"/><line x1="654.8" y1="237.8" x2="661.0" y2="214.4"/><line x1="661.0" y1="214.4" x2="665.8" y2="214.4"/><line x1="665.8" y1="214.4" x2="671.2" y2="214.4"/><line x1="671.2" y1="214.4" x2="676.5" y2="214.4"/><line x1="676.5" y1="214.4" x2="681.6" y2="258.1"/><line x1="681.6" y1="258.1" x2="688.2" y2="237.8"/><line x1="688.2" y1="237.8" x2="693.8" y2="275.3"/><line x1="693.8" y1="275.3" x2="699.2" y2="254.3"/><line x1="699.2" y1="254.3" x2="704.3" y2="258.1"/><line x1="704.3" y1="258.1" x2="710.3" y2="237.8"/><line x1="710.3" y1="237.8" x2="715.5" y2="275.3"/><line x1="715.5" y1="275.3" x2="726.8" y2="237.8"/><line x1="726.8" y1="237.8" x2="731.7" y2="186.9"/><line x1="731.7" y1="186.9" x2="737.8" y2="186.9"/><line x1="737.8" y1="186.9" x2="743.4" y2="186.9"/><line x1="743.4" y1="186.9" x2="748.9" y2="186.9"/><line x1="748.9" y1="186.9" x2="754.4" y2="186.9"/><line x1="754.4" y1="186.9" x2="759.9" y2="186.9"/><line x1="759.9" y1="186.9" x2="765.4" y2="186.9"/><line x1="765.4" y1="186.9" x2="771.0" y2="186.9"/><line x1="771.0" y1="186.9" x2="776.5" y2="186.9"/><line x1="776.5" y1="186.9" x2="783.1" y2="186.9"/><line x1="783.1" y1="186.9" x2="788.2" y2="258.1"/><line x1="788.2" y1="258.1" x2="793.3" y2="258.1"/><line x1="793.3" y1="258.1" x2="799.3" y2="237.8"/><line x1="799.3" y1="237.8" x2="804.3" y2="258.1"/><line x1="804.3" y1="258.1" x2="815.4" y2="214.4"/><line x1="815.4" y1="214.4" x2="821.0" y2="214.4"/><line x1="821.0" y1="214.4" x2="826.5" y2="214.4"/><line x1="826.5" y1="214.4" x2="832.0" y2="214.4"/><line x1="832.0" y1="214.4" x2="837.5" y2="214.4"/><line x1="837.5" y1="214.4" x2="843.0" y2="214.4"/><line x1="843.0" y1="214.4" x2="848.5" y2="214.4"/><line x1="848.5" y1="214.4" x2="852.9" y2="186.9"/><line x1="852.9" y1="186.9" x2="858.4" y2="186.9"/><line x1="858.4" y1="186.9" x2="863.9" y2="186.9"/><line x1="863.9" y1="186.9" x2="869.4" y2="186.9"/><line x1="869.4" y1="186.9" x2="874.9" y2="186.9"/><line x1="874.9" y1="186.9" x2="880.4" y2="186.9"/><line x1="880.4" y1="186.9" x2="885.9" y2="186.9"/><line x1="885.9" y1="186.9" x2="891.4" y2="186.9"/><line x1="891.4" y1="186.9" x2="896.9" y2="186.9"/><line x1="896.9" y1="186.9" x2="902.4" y2="186.9"/><line x1="902.4" y1="186.9" x2="907.9" y2="186.9"/><line x1="907.9" y1="186.9" x2="913.4" y2="186.9"/><line x1="913.4" y1="186.9" x2="918.9" y2="186.9"/><line x1="918.9" y1="186.9" x2="924.4" y2="186.9"/><line x1="924.4" y1="186.9" x2="929.9" y2="186.9"/><line x1="929.9" y1="186.9" x2="935.4" y2="186.9"/><line x1="935.4" y1="186.9" x2="940.9" y2="186.9"/><line x1="940.9" y1="186.9" x2="946.4" y2="186.9"/><line x1="946.4" y1="186.9" x2="951.9" y2="186.9"/><line x1="951.9" y1="186.9" x2="957.4" y2="186.9"/><line x1="957.4" y1="186.9" x2="962.9" y2="186.9"/><line x1="962.9" y1="186.9" x2="968.4" y2="186.9"/><line x1="968.4" y1="186.9" x2="973.9" y2="186.9"/><line x1="973.9" y1="186.9" x2="979.4" y2="186.9"/><line x1="979.4" y1="186.9" x2="984.9" y2="186.9"/><line x1="984.9" y1="186.9" x2="990.4" y2="186.9"/><line x1="990.4" y1="186.9" x2="995.9" y2="186.9"/><line x1="995.9" y1="186.9" x2="1001.4" y2="186.9"/><line x1="1001.4" y1="186.9" x2="1006.9" y2="186.9"/><line x1="1006.9" y1="186.9" x2="1013.4" y2="186.9"/><line x1="1013.4" y1="186.9" x2="1017.7" y2="291.0"/><line x1="1017.7" y1="291.0" x2="1023.5" y2="275.3"/><line x1="1023.5" y1="275.3" x2="1029.8" y2="258.1"/><line x1="1029.8" y1="258.1" x2="1034.5" y2="258.1"/><line x1="1034.5" y1="258.1" x2="1040.0" y2="258.1"/><line x1="1040.0" y1="258.1" x2="1045.5" y2="237.8"/><line x1="1045.5" y1="237.8" x2="1051.5" y2="237.8"/><line x1="1051.5" y1="237.8" x2="1056.6" y2="214.4"/><line x1="1056.6" y1="214.4" x2="1061.6" y2="214.4"/><line x1="1061.6" y1="214.4" x2="1067.9" y2="275.3"/><line x1="1067.9" y1="275.3" x2="1073.1" y2="258.1"/><line x1="1073.1" y1="258.1" x2="1078.6" y2="237.8"/><line x1="1078.6" y1="237.8" x2="1084.2" y2="214.4"/><line x1="1084.2" y1="214.4" x2="1089.7" y2="214.4"/><line x1="1089.7" y1="214.4" x2="1094.1" y2="186.9"/><line x1="1094.1" y1="186.9" x2="1099.6" y2="186.9"/><line x1="1099.6" y1="186.9" x2="1105.1" y2="186.9"/><line x1="1105.1" y1="186.9" x2="1110.6" y2="186.9"/><line x1="1110.6" y1="186.9" x2="1116.1" y2="186.9"/><line x1="1116.1" y1="186.9" x2="1121.6" y2="186.9"/><line x1="1121.6" y1="186.9" x2="1127.1" y2="186.9"/><line x1="1127.1" y1="186.9" x2="1132.6" y2="186.9"/><line x1="1132.6" y1="186.9" x2="1138.1" y2="186.9"/><line x1="1138.1" y1="186.9" x2="1145.5" y2="186.9"/><line x1="1145.5" y1="186.9" x2="1150.4" y2="156.6"/><line x1="1150.4" y1="156.6" x2="1156.0" y2="275.3"/><line x1="1156.0" y1="275.3" x2="1161.4" y2="258.1"/><line x1="1161.4" y1="258.1" x2="1166.9" y2="258.1"/><line x1="1166.9" y1="258.1" x2="1173.0" y2="237.8"/><line x1="1173.0" y1="237.8" x2="1178.3" y2="258.1"/><line x1="1178.3" y1="258.1" x2="1189.1" y2="214.4"/><line x1="1189.1" y1="214.4" x2="1194.4" y2="258.1"/><line x1="1194.4" y1="258.1" x2="1199.4" y2="237.8"/><line x1="1199.4" y1="237.8" x2="1205.1" y2="237.8"/><line x1="1205.1" y1="237.8" x2="1210.9" y2="258.1"/><line x1="1210.9" y1="258.1" x2="1221.9" y2="214.4"/><line x1="1221.9" y1="214.4" x2="1226.9" y2="186.9"/><line x1="1226.9" y1="186.9" x2="1232.6" y2="186.9"/><line x1="1232.6" y1="186.9" x2="1238.3" y2="186.9"/><line x1="1238.3" y1="186.9" x2="1244.0" y2="186.9"/><line x1="1244.0" y1="186.9" x2="1249.7" y2="186.9"/><line x1="1249.7" y1="186.9" x2="1255.6" y2="186.9"/><line x1="1255.6" y1="186.9" x2="1260.2" y2="156.6"/><line x1="1260.2" y1="156.6" x2="1265.8" y2="156.6"/><line x1="1265.8" y1="156.6" x2="1271.4" y2="156.6"/><line x1="1271.4" y1="156.6" x2="1276.9" y2="156.6"/><line x1="1276.9" y1="156.6" x2="1295.5" y2="258.1"/><line x1="1295.5" y1="258.1" x2="1301.5" y2="258.1"/><line x1="1301.5" y1="258.1" x2="1306.6" y2="237.8"/><line x1="1306.6" y1="237.8" x2="1312.1" y2="237.8"/><line x1="1312.1" y1="237.8" x2="1317.6" y2="214.4"/><line x1="1317.6" y1="214.4" x2="1323.1" y2="214.4"/><line x1="1323.1" y1="214.4" x2="1329.3" y2="258.1"/><line x1="1329.3" y1="258.1" x2="1335.3" y2="237.8"/><line x1="1335.3" y1="237.8" x2="1340.5" y2="275.3"/><line x1="1340.5" y1="275.3" x2="1347.0" y2="237.8"/><line x1="1347.0" y1="237.8" x2="1351.8" y2="214.4"/><line x1="1351.8" y1="214.4" x2="1357.3" y2="214.4"/><line x1="1357.3" y1="214.4" x2="1362.8" y2="214.4"/><line x1="1362.8" y1="214.4" x2="1367.7" y2="258.1"/><line x1="1367.7" y1="258.1" x2="1379.4" y2="214.4"/><line x1="1379.4" y1="214.4" x2="1385.4" y2="258.1"/><line x1="1385.4" y1="258.1" x2="1390.8" y2="258.1"/><line x1="1390.8" y1="258.1" x2="1396.2" y2="258.1"/><line x1="1396.2" y1="258.1" x2="1401.5" y2="258.1"/><line x1="1401.5" y1="258.1" x2="1407.0" y2="237.8"/><line x1="1407.0" y1="237.8" x2="1412.5" y2="237.8"/><line x1="1412.5" y1="237.8" x2="1418.2" y2="275.3"/><line x1="1418.2" y1="275.3" x2="1424.2" y2="258.1"/><line x1="1424.2" y1="258.1" x2="1429.5" y2="258.1"/><line x1="1429.5" y1="258.1" x2="1434.6" y2="237.8"/></g><g fill="#b41eb9" fill-opacity="0.45"><circle cx="420.5" cy="186.9" r="1.15"/><circle cx="426.3" cy="186.9" r="1.15"/><circle cx="432.1" cy="186.9" r="1.15"/><circle cx="437.9" cy="186.9" r="1.15"/><circle cx="443.7" cy="186.9" r="1.15"/><circle cx="449.5" cy="186.9" r="1.15"/><circle cx="455.3" cy="186.9" r="1.15"/><circle cx="461.1" cy="186.9" r="1.15"/><circle cx="466.9" cy="186.9" r="1.15"/><circle cx="472.6" cy="186.9" r="1.15"/><circle cx="478.1" cy="186.9" r="1.15"/><circle cx="482.9" cy="156.6" r="1.15"/><circle cx="487.4" cy="275.3" r="1.15"/><circle cx="494.3" cy="275.3" r="1.15"/><circle cx="499.5" cy="258.1" r="1.15"/><circle cx="505.0" cy="258.1" r="1.15"/><circle cx="510.5" cy="258.1" r="1.15"/><circle cx="515.0" cy="258.1" r="1.15"/><circle cx="526.7" cy="214.4" r="1.15"/><circle cx="530.9" cy="214.4" r="1.15"/><circle cx="537.8" cy="237.8" r="1.15"/><circle cx="543.0" cy="237.8" r="1.15"/><circle cx="548.2" cy="258.1" r="1.15"/><circle cx="559.4" cy="214.4" r="1.15"/><circle cx="565.2" cy="214.4" r="1.15"/><circle cx="570.5" cy="258.1" r="1.15"/><circle cx="575.3" cy="237.8" r="1.15"/><circle cx="581.4" cy="258.1" r="1.15"/><circle cx="586.7" cy="237.8" r="1.15"/><circle cx="591.8" cy="275.3" r="1.15"/><circle cx="598.2" cy="258.1" r="1.15"/><circle cx="604.5" cy="237.8" r="1.15"/><circle cx="610.3" cy="237.8" r="1.15"/><circle cx="616.0" cy="237.8" r="1.15"/><circle cx="621.6" cy="237.8" r="1.15"/><circle cx="627.2" cy="237.8" r="1.15"/><circle cx="632.7" cy="275.3" r="1.15"/><circle cx="638.2" cy="258.1" r="1.15"/><circle cx="643.8" cy="258.1" r="1.15"/><circle cx="649.3" cy="258.1" r="1.15"/><circle cx="654.8" cy="237.8" r="1.15"/><circle cx="661.0" cy="214.4" r="1.15"/><circle cx="665.8" cy="214.4" r="1.15"/><circle cx="671.2" cy="214.4" r="1.15"/><circle cx="676.5" cy="214.4" r="1.15"/><circle cx="681.6" cy="258.1" r="1.15"/><circle cx="688.2" cy="237.8" r="1.15"/><circle cx="693.8" cy="275.3" r="1.15"/><circle cx="699.2" cy="254.3" r="1.15"/><circle cx="704.3" cy="258.1" r="1.15"/><circle cx="710.3" cy="237.8" r="1.15"/><circle cx="715.5" cy="275.3" r="1.15"/><circle cx="726.8" cy="237.8" r="1.15"/><circle cx="731.7" cy="186.9" r="1.15"/><circle cx="737.8" cy="186.9" r="1.15"/><circle cx="743.4" cy="186.9" r="1.15"/><circle cx="748.9" cy="186.9" r="1.15"/><circle cx="754.4" cy="186.9" r="1.15"/><circle cx="759.9" cy="186.9" r="1.15"/><circle cx="765.4" cy="186.9" r="1.15"/><circle cx="771.0" cy="186.9" r="1.15"/><circle cx="776.5" cy="186.9" r="1.15"/><circle cx="783.1" cy="186.9" r="1.15"/><circle cx="788.2" cy="258.1" r="1.15"/><circle cx="793.3" cy="258.1" r="1.15"/><circle cx="799.3" cy="237.8" r="1.15"/><circle cx="804.3" cy="258.1" r="1.15"/><circle cx="815.4" cy="214.4" r="1.15"/><circle cx="821.0" cy="214.4" r="1.15"/><circle cx="826.5" cy="214.4" r="1.15"/><circle cx="832.0" cy="214.4" r="1.15"/><circle cx="837.5" cy="214.4" r="1.15"/><circle cx="843.0" cy="214.4" r="1.15"/><circle cx="848.5" cy="214.4" r="1.15"/><circle cx="852.9" cy="186.9" r="1.15"/><circle cx="858.4" cy="186.9" r="1.15"/><circle cx="863.9" cy="186.9" r="1.15"/><circle cx="869.4" cy="186.9" r="1.15"/><circle cx="874.9" cy="186.9" r="1.15"/><circle cx="880.4" cy="186.9" r="1.15"/><circle cx="885.9" cy="186.9" r="1.15"/><circle cx="891.4" cy="186.9" r="1.15"/><circle cx="896.9" cy="186.9" r="1.15"/><circle cx="902.4" cy="186.9" r="1.15"/><circle cx="907.9" cy="186.9" r="1.15"/><circle cx="913.4" cy="186.9" r="1.15"/><circle cx="918.9" cy="186.9" r="1.15"/><circle cx="924.4" cy="186.9" r="1.15"/><circle cx="929.9" cy="186.9" r="1.15"/><circle cx="935.4" cy="186.9" r="1.15"/><circle cx="940.9" cy="186.9" r="1.15"/><circle cx="946.4" cy="186.9" r="1.15"/><circle cx="951.9" cy="186.9" r="1.15"/><circle cx="957.4" cy="186.9" r="1.15"/><circle cx="962.9" cy="186.9" r="1.15"/><circle cx="968.4" cy="186.9" r="1.15"/><circle cx="973.9" cy="186.9" r="1.15"/><circle cx="979.4" cy="186.9" r="1.15"/><circle cx="984.9" cy="186.9" r="1.15"/><circle cx="990.4" cy="186.9" r="1.15"/><circle cx="995.9" cy="186.9" r="1.15"/><circle cx="1001.4" cy="186.9" r="1.15"/><circle cx="1006.9" cy="186.9" r="1.15"/><circle cx="1013.4" cy="186.9" r="1.15"/><circle cx="1017.7" cy="291.0" r="1.15"/><circle cx="1023.5" cy="275.3" r="1.15"/><circle cx="1029.8" cy="258.1" r="1.15"/><circle cx="1034.5" cy="258.1" r="1.15"/><circle cx="1040.0" cy="258.1" r="1.15"/><circle cx="1045.5" cy="237.8" r="1.15"/><circle cx="1051.5" cy="237.8" r="1.15"/><circle cx="1056.6" cy="214.4" r="1.15"/><circle cx="1061.6" cy="214.4" r="1.15"/><circle cx="1067.9" cy="275.3" r="1.15"/><circle cx="1073.1" cy="258.1" r="1.15"/><circle cx="1078.6" cy="237.8" r="1.15"/><circle cx="1084.2" cy="214.4" r="1.15"/><circle cx="1089.7" cy="214.4" r="1.15"/><circle cx="1094.1" cy="186.9" r="1.15"/><circle cx="1099.6" cy="186.9" r="1.15"/><circle cx="1105.1" cy="186.9" r="1.15"/><circle cx="1110.6" cy="186.9" r="1.15"/><circle cx="1116.1" cy="186.9" r="1.15"/><circle cx="1121.6" cy="186.9" r="1.15"/><circle cx="1127.1" cy="186.9" r="1.15"/><circle cx="1132.6" cy="186.9" r="1.15"/><circle cx="1138.1" cy="186.9" r="1.15"/><circle cx="1145.5" cy="186.9" r="1.15"/><circle cx="1150.4" cy="156.6" r="1.15"/><circle cx="1156.0" cy="275.3" r="1.15"/><circle cx="1161.4" cy="258.1" r="1.15"/><circle cx="1166.9" cy="258.1" r="1.15"/><circle cx="1173.0" cy="237.8" r="1.15"/><circle cx="1178.3" cy="258.1" r="1.15"/><circle cx="1189.1" cy="214.4" r="1.15"/><circle cx="1194.4" cy="258.1" r="1.15"/><circle cx="1199.4" cy="237.8" r="1.15"/><circle cx="1205.1" cy="237.8" r="1.15"/><circle cx="1210.9" cy="258.1" r="1.15"/><circle cx="1221.9" cy="214.4" r="1.15"/><circle cx="1226.9" cy="186.9" r="1.15"/><circle cx="1232.6" cy="186.9" r="1.15"/><circle cx="1238.3" cy="186.9" r="1.15"/><circle cx="1244.0" cy="186.9" r="1.15"/><circle cx="1249.7" cy="186.9" r="1.15"/><circle cx="1255.6" cy="186.9" r="1.15"/><circle cx="1260.2" cy="156.6" r="1.15"/><circle cx="1265.8" cy="156.6" r="1.15"/><circle cx="1271.4" cy="156.6" r="1.15"/><circle cx="1276.9" cy="156.6" r="1.15"/><circle cx="1295.5" cy="258.1" r="1.15"/><circle cx="1301.5" cy="258.1" r="1.15"/><circle cx="1306.6" cy="237.8" r="1.15"/><circle cx="1312.1" cy="237.8" r="1.15"/><circle cx="1317.6" cy="214.4" r="1.15"/><circle cx="1323.1" cy="214.4" r="1.15"/><circle cx="1329.3" cy="258.1" r="1.15"/><circle cx="1335.3" cy="237.8" r="1.15"/><circle cx="1340.5" cy="275.3" r="1.15"/><circle cx="1347.0" cy="237.8" r="1.15"/><circle cx="1351.8" cy="214.4" r="1.15"/><circle cx="1357.3" cy="214.4" r="1.15"/><circle cx="1362.8" cy="214.4" r="1.15"/><circle cx="1367.7" cy="258.1" r="1.15"/><circle cx="1379.4" cy="214.4" r="1.15"/><circle cx="1385.4" cy="258.1" r="1.15"/><circle cx="1390.8" cy="258.1" r="1.15"/><circle cx="1396.2" cy="258.1" r="1.15"/><circle cx="1401.5" cy="258.1" r="1.15"/><circle cx="1407.0" cy="237.8" r="1.15"/><circle cx="1412.5" cy="237.8" r="1.15"/><circle cx="1418.2" cy="275.3" r="1.15"/><circle cx="1424.2" cy="258.1" r="1.15"/><circle cx="1429.5" cy="258.1" r="1.15"/><circle cx="1434.6" cy="237.8" r="1.15"/></g><polyline points="421.3,306.8 426.7,288.7 432.6,313.5 438.0,278.1 443.9,308.3 449.3,293.2 455.2,301.1 461.3,317.4 466.5,280.3 471.9,320.3 477.8,296.6 482.7,298.4 487.7,312.9 494.0,295.5 499.0,293.2 505.3,312.9 510.9,293.2 516.6,303.4 521.5,310.6 526.7,283.1 531.9,318.0 538.0,298.4 543.0,303.0 548.6,290.3 559.2,323.2 565.3,280.3 570.5,318.0 581.8,302.2 587.0,290.3 592.4,312.4 598.2,300.0 604.3,305.2 610.4,289.4 616.7,312.4 621.7,316.9 626.9,287.6 632.6,302.9 638.2,298.4 644.3,315.1 649.5,305.6 654.7,288.7 660.8,324.8 665.2,303.0 670.6,286.4 676.7,316.9 681.9,305.2 688.7,296.6 693.9,295.5 699.3,307.9 704.5,321.4 710.6,293.2 716.5,303.4 721.9,307.9 727.1,293.2 732.7,304.5 738.4,310.1 744.0,303.8 749.0,288.0 755.3,296.6 760.9,305.6 766.1,280.3 771.1,289.4 776.7,278.1 782.4,278.1 788.0,292.1 793.9,294.0 799.0,290.3 804.7,306.8 809.9,287.6 815.3,314.7 820.5,300.0 825.7,290.3 831.1,309.0 837.0,315.1 843.0,285.3 848.2,306.1 853.2,295.5 858.8,314.2 864.2,305.5 869.5,296.6 875.3,324.8 880.7,303.4 886.6,296.6 891.6,312.4 897.2,323.2 902.9,299.3 908.5,311.3 913.7,301.6 920.3,292.1 925.2,324.8 930.8,302.9 936.4,307.9 941.6,318.0 947.1,301.6 952.9,304.5 958.3,284.5 964.2,312.0 969.2,305.6 974.1,287.1 980.0,288.0 985.4,287.1 990.6,309.0 996.7,281.9 1001.9,320.3 1007.6,308.3 1012.5,309.0 1017.7,301.6 1023.8,316.9 1029.0,309.7 1034.6,315.8 1040.3,304.5 1045.5,324.0 1051.3,297.7 1056.9,282.6 1062.1,281.3 1067.5,309.0 1072.7,312.0 1078.4,306.8 1084.0,312.9 1089.7,304.5 1094.6,302.9 1100.5,288.7 1106.6,306.8 1111.8,321.4 1117.2,292.1 1122.4,307.9 1128.0,287.1 1134.4,312.9 1139.8,303.4 1145.6,284.2 1150.6,320.3 1156.3,313.5 1161.9,290.3 1167.5,312.6 1173.6,298.9 1178.5,312.9 1183.5,293.9 1189.4,319.2 1194.3,305.2 1200.0,309.0 1205.6,314.7 1210.6,320.3 1215.8,302.2 1222.6,295.5 1227.1,312.4 1232.7,315.8 1238.4,280.3 1242.9,299.3 1250.8,286.4 1255.7,289.4 1260.9,294.3 1267.0,325.5 1271.5,309.0 1276.7,314.2 1290.0,306.1 1295.6,303.0 1301.3,305.7 1306.3,317.4 1312.1,292.1 1317.6,291.0 1323.4,303.0 1328.9,294.4 1335.2,315.8 1340.2,297.1 1346.0,303.0 1351.5,300.7 1357.3,309.1 1362.8,312.9 1368.0,300.7 1373.1,321.5 1379.2,288.0 1384.9,312.4 1389.9,312.9 1396.2,295.5 1401.8,292.1 1407.5,304.5 1413.1,307.9 1418.3,304.5 1424.4,304.5 1429.6,291.7 1434.6,312.4" fill="none" stroke="#2828b8" stroke-opacity="0.16" stroke-width="3.2" stroke-linejoin="round"/><g stroke="#2828b8" stroke-width="2" stroke-opacity="0.85" stroke-linecap="round" fill="none"><line x1="421.3" y1="306.8" x2="426.7" y2="288.7"/><line x1="426.7" y1="288.7" x2="432.6" y2="313.5"/><line x1="432.6" y1="313.5" x2="438.0" y2="278.1"/><line x1="438.0" y1="278.1" x2="443.9" y2="308.3"/><line x1="443.9" y1="308.3" x2="449.3" y2="293.2"/><line x1="449.3" y1="293.2" x2="455.2" y2="301.1"/><line x1="455.2" y1="301.1" x2="461.3" y2="317.4"/><line x1="461.3" y1="317.4" x2="466.5" y2="280.3"/><line x1="466.5" y1="280.3" x2="471.9" y2="320.3"/><line x1="471.9" y1="320.3" x2="477.8" y2="296.6"/><line x1="477.8" y1="296.6" x2="482.7" y2="298.4"/><line x1="482.7" y1="298.4" x2="487.7" y2="312.9"/><line x1="487.7" y1="312.9" x2="494.0" y2="295.5"/><line x1="494.0" y1="295.5" x2="499.0" y2="293.2"/><line x1="499.0" y1="293.2" x2="505.3" y2="312.9"/><line x1="505.3" y1="312.9" x2="510.9" y2="293.2"/><line x1="510.9" y1="293.2" x2="516.6" y2="303.4"/><line x1="516.6" y1="303.4" x2="521.5" y2="310.6"/><line x1="521.5" y1="310.6" x2="526.7" y2="283.1"/><line x1="526.7" y1="283.1" x2="531.9" y2="318.0"/><line x1="531.9" y1="318.0" x2="538.0" y2="298.4"/><line x1="538.0" y1="298.4" x2="543.0" y2="303.0"/><line x1="543.0" y1="303.0" x2="548.6" y2="290.3"/><line x1="548.6" y1="290.3" x2="559.2" y2="323.2"/><line x1="559.2" y1="323.2" x2="565.3" y2="280.3"/><line x1="565.3" y1="280.3" x2="570.5" y2="318.0"/><line x1="570.5" y1="318.0" x2="581.8" y2="302.2"/><line x1="581.8" y1="302.2" x2="587.0" y2="290.3"/><line x1="587.0" y1="290.3" x2="592.4" y2="312.4"/><line x1="592.4" y1="312.4" x2="598.2" y2="300.0"/><line x1="598.2" y1="300.0" x2="604.3" y2="305.2"/><line x1="604.3" y1="305.2" x2="610.4" y2="289.4"/><line x1="610.4" y1="289.4" x2="616.7" y2="312.4"/><line x1="616.7" y1="312.4" x2="621.7" y2="316.9"/><line x1="621.7" y1="316.9" x2="626.9" y2="287.6"/><line x1="626.9" y1="287.6" x2="632.6" y2="302.9"/><line x1="632.6" y1="302.9" x2="638.2" y2="298.4"/><line x1="638.2" y1="298.4" x2="644.3" y2="315.1"/><line x1="644.3" y1="315.1" x2="649.5" y2="305.6"/><line x1="649.5" y1="305.6" x2="654.7" y2="288.7"/><line x1="654.7" y1="288.7" x2="660.8" y2="324.8"/><line x1="660.8" y1="324.8" x2="665.2" y2="303.0"/><line x1="665.2" y1="303.0" x2="670.6" y2="286.4"/><line x1="670.6" y1="286.4" x2="676.7" y2="316.9"/><line x1="676.7" y1="316.9" x2="681.9" y2="305.2"/><line x1="681.9" y1="305.2" x2="688.7" y2="296.6"/><line x1="688.7" y1="296.6" x2="693.9" y2="295.5"/><line x1="693.9" y1="295.5" x2="699.3" y2="307.9"/><line x1="699.3" y1="307.9" x2="704.5" y2="321.4"/><line x1="704.5" y1="321.4" x2="710.6" y2="293.2"/><line x1="710.6" y1="293.2" x2="716.5" y2="303.4"/><line x1="716.5" y1="303.4" x2="721.9" y2="307.9"/><line x1="721.9" y1="307.9" x2="727.1" y2="293.2"/><line x1="727.1" y1="293.2" x2="732.7" y2="304.5"/><line x1="732.7" y1="304.5" x2="738.4" y2="310.1"/><line x1="738.4" y1="310.1" x2="744.0" y2="303.8"/><line x1="744.0" y1="303.8" x2="749.0" y2="288.0"/><line x1="749.0" y1="288.0" x2="755.3" y2="296.6"/><line x1="755.3" y1="296.6" x2="760.9" y2="305.6"/><line x1="760.9" y1="305.6" x2="766.1" y2="280.3"/><line x1="766.1" y1="280.3" x2="771.1" y2="289.4"/><line x1="771.1" y1="289.4" x2="776.7" y2="278.1"/><line x1="776.7" y1="278.1" x2="782.4" y2="278.1"/><line x1="782.4" y1="278.1" x2="788.0" y2="292.1"/><line x1="788.0" y1="292.1" x2="793.9" y2="294.0"/><line x1="793.9" y1="294.0" x2="799.0" y2="290.3"/><line x1="799.0" y1="290.3" x2="804.7" y2="306.8"/><line x1="804.7" y1="306.8" x2="809.9" y2="287.6"/><line x1="809.9" y1="287.6" x2="815.3" y2="314.7"/><line x1="815.3" y1="314.7" x2="820.5" y2="300.0"/><line x1="820.5" y1="300.0" x2="825.7" y2="290.3"/><line x1="825.7" y1="290.3" x2="831.1" y2="309.0"/><line x1="831.1" y1="309.0" x2="837.0" y2="315.1"/><line x1="837.0" y1="315.1" x2="843.0" y2="285.3"/><line x1="843.0" y1="285.3" x2="848.2" y2="306.1"/><line x1="848.2" y1="306.1" x2="853.2" y2="295.5"/><line x1="853.2" y1="295.5" x2="858.8" y2="314.2"/><line x1="858.8" y1="314.2" x2="864.2" y2="305.5"/><line x1="864.2" y1="305.5" x2="869.5" y2="296.6"/><line x1="869.5" y1="296.6" x2="875.3" y2="324.8"/><line x1="875.3" y1="324.8" x2="880.7" y2="303.4"/><line x1="880.7" y1="303.4" x2="886.6" y2="296.6"/><line x1="886.6" y1="296.6" x2="891.6" y2="312.4"/><line x1="891.6" y1="312.4" x2="897.2" y2="323.2"/><line x1="897.2" y1="323.2" x2="902.9" y2="299.3"/><line x1="902.9" y1="299.3" x2="908.5" y2="311.3"/><line x1="908.5" y1="311.3" x2="913.7" y2="301.6"/><line x1="913.7" y1="301.6" x2="920.3" y2="292.1"/><line x1="920.3" y1="292.1" x2="925.2" y2="324.8"/><line x1="925.2" y1="324.8" x2="930.8" y2="302.9"/><line x1="930.8" y1="302.9" x2="936.4" y2="307.9"/><line x1="936.4" y1="307.9" x2="941.6" y2="318.0"/><line x1="941.6" y1="318.0" x2="947.1" y2="301.6"/><line x1="947.1" y1="301.6" x2="952.9" y2="304.5"/><line x1="952.9" y1="304.5" x2="958.3" y2="284.5"/><line x1="958.3" y1="284.5" x2="964.2" y2="312.0"/><line x1="964.2" y1="312.0" x2="969.2" y2="305.6"/><line x1="969.2" y1="305.6" x2="974.1" y2="287.1"/><line x1="974.1" y1="287.1" x2="980.0" y2="288.0"/><line x1="980.0" y1="288.0" x2="985.4" y2="287.1"/><line x1="985.4" y1="287.1" x2="990.6" y2="309.0"/><line x1="990.6" y1="309.0" x2="996.7" y2="281.9"/><line x1="996.7" y1="281.9" x2="1001.9" y2="320.3"/><line x1="1001.9" y1="320.3" x2="1007.6" y2="308.3"/><line x1="1007.6" y1="308.3" x2="1012.5" y2="309.0"/><line x1="1012.5" y1="309.0" x2="1017.7" y2="301.6"/><line x1="1017.7" y1="301.6" x2="1023.8" y2="316.9"/><line x1="1023.8" y1="316.9" x2="1029.0" y2="309.7"/><line x1="1029.0" y1="309.7" x2="1034.6" y2="315.8"/><line x1="1034.6" y1="315.8" x2="1040.3" y2="304.5"/><line x1="1040.3" y1="304.5" x2="1045.5" y2="324.0"/><line x1="1045.5" y1="324.0" x2="1051.3" y2="297.7"/><line x1="1051.3" y1="297.7" x2="1056.9" y2="282.6"/><line x1="1056.9" y1="282.6" x2="1062.1" y2="281.3"/><line x1="1062.1" y1="281.3" x2="1067.5" y2="309.0"/><line x1="1067.5" y1="309.0" x2="1072.7" y2="312.0"/><line x1="1072.7" y1="312.0" x2="1078.4" y2="306.8"/><line x1="1078.4" y1="306.8" x2="1084.0" y2="312.9"/><line x1="1084.0" y1="312.9" x2="1089.7" y2="304.5"/><line x1="1089.7" y1="304.5" x2="1094.6" y2="302.9"/><line x1="1094.6" y1="302.9" x2="1100.5" y2="288.7"/><line x1="1100.5" y1="288.7" x2="1106.6" y2="306.8"/><line x1="1106.6" y1="306.8" x2="1111.8" y2="321.4"/><line x1="1111.8" y1="321.4" x2="1117.2" y2="292.1"/><line x1="1117.2" y1="292.1" x2="1122.4" y2="307.9"/><line x1="1122.4" y1="307.9" x2="1128.0" y2="287.1"/><line x1="1128.0" y1="287.1" x2="1134.4" y2="312.9"/><line x1="1134.4" y1="312.9" x2="1139.8" y2="303.4"/><line x1="1139.8" y1="303.4" x2="1145.6" y2="284.2"/><line x1="1145.6" y1="284.2" x2="1150.6" y2="320.3"/><line x1="1150.6" y1="320.3" x2="1156.3" y2="313.5"/><line x1="1156.3" y1="313.5" x2="1161.9" y2="290.3"/><line x1="1161.9" y1="290.3" x2="1167.5" y2="312.6"/><line x1="1167.5" y1="312.6" x2="1173.6" y2="298.9"/><line x1="1173.6" y1="298.9" x2="1178.5" y2="312.9"/><line x1="1178.5" y1="312.9" x2="1183.5" y2="293.9"/><line x1="1183.5" y1="293.9" x2="1189.4" y2="319.2"/><line x1="1189.4" y1="319.2" x2="1194.3" y2="305.2"/><line x1="1194.3" y1="305.2" x2="1200.0" y2="309.0"/><line x1="1200.0" y1="309.0" x2="1205.6" y2="314.7"/><line x1="1205.6" y1="314.7" x2="1210.6" y2="320.3"/><line x1="1210.6" y1="320.3" x2="1215.8" y2="302.2"/><line x1="1215.8" y1="302.2" x2="1222.6" y2="295.5"/><line x1="1222.6" y1="295.5" x2="1227.1" y2="312.4"/><line x1="1227.1" y1="312.4" x2="1232.7" y2="315.8"/><line x1="1232.7" y1="315.8" x2="1238.4" y2="280.3"/><line x1="1238.4" y1="280.3" x2="1242.9" y2="299.3"/><line x1="1242.9" y1="299.3" x2="1250.8" y2="286.4"/><line x1="1250.8" y1="286.4" x2="1255.7" y2="289.4"/><line x1="1255.7" y1="289.4" x2="1260.9" y2="294.3"/><line x1="1260.9" y1="294.3" x2="1267.0" y2="325.5"/><line x1="1267.0" y1="325.5" x2="1271.5" y2="309.0"/><line x1="1271.5" y1="309.0" x2="1276.7" y2="314.2"/><line x1="1276.7" y1="314.2" x2="1290.0" y2="306.1"/><line x1="1290.0" y1="306.1" x2="1295.6" y2="303.0"/><line x1="1295.6" y1="303.0" x2="1301.3" y2="305.7"/><line x1="1301.3" y1="305.7" x2="1306.3" y2="317.4"/><line x1="1306.3" y1="317.4" x2="1312.1" y2="292.1"/><line x1="1312.1" y1="292.1" x2="1317.6" y2="291.0"/><line x1="1317.6" y1="291.0" x2="1323.4" y2="303.0"/><line x1="1323.4" y1="303.0" x2="1328.9" y2="294.4"/><line x1="1328.9" y1="294.4" x2="1335.2" y2="315.8"/><line x1="1335.2" y1="315.8" x2="1340.2" y2="297.1"/><line x1="1340.2" y1="297.1" x2="1346.0" y2="303.0"/><line x1="1346.0" y1="303.0" x2="1351.5" y2="300.7"/><line x1="1351.5" y1="300.7" x2="1357.3" y2="309.1"/><line x1="1357.3" y1="309.1" x2="1362.8" y2="312.9"/><line x1="1362.8" y1="312.9" x2="1368.0" y2="300.7"/><line x1="1368.0" y1="300.7" x2="1373.1" y2="321.5"/><line x1="1373.1" y1="321.5" x2="1379.2" y2="288.0"/><line x1="1379.2" y1="288.0" x2="1384.9" y2="312.4"/><line x1="1384.9" y1="312.4" x2="1389.9" y2="312.9"/><line x1="1389.9" y1="312.9" x2="1396.2" y2="295.5"/><line x1="1396.2" y1="295.5" x2="1401.8" y2="292.1"/><line x1="1401.8" y1="292.1" x2="1407.5" y2="304.5"/><line x1="1407.5" y1="304.5" x2="1413.1" y2="307.9"/><line x1="1413.1" y1="307.9" x2="1418.3" y2="304.5"/><line x1="1418.3" y1="304.5" x2="1424.4" y2="304.5"/><line x1="1424.4" y1="304.5" x2="1429.6" y2="291.7"/><line x1="1429.6" y1="291.7" x2="1434.6" y2="312.4"/></g><g fill="#2828b8" fill-opacity="0.45"><circle cx="421.3" cy="306.8" r="1.15"/><circle cx="426.7" cy="288.7" r="1.15"/><circle cx="432.6" cy="313.5" r="1.15"/><circle cx="438.0" cy="278.1" r="1.15"/><circle cx="443.9" cy="308.3" r="1.15"/><circle cx="449.3" cy="293.2" r="1.15"/><circle cx="455.2" cy="301.1" r="1.15"/><circle cx="461.3" cy="317.4" r="1.15"/><circle cx="466.5" cy="280.3" r="1.15"/><circle cx="471.9" cy="320.3" r="1.15"/><circle cx="477.8" cy="296.6" r="1.15"/><circle cx="482.7" cy="298.4" r="1.15"/><circle cx="487.7" cy="312.9" r="1.15"/><circle cx="494.0" cy="295.5" r="1.15"/><circle cx="499.0" cy="293.2" r="1.15"/><circle cx="505.3" cy="312.9" r="1.15"/><circle cx="510.9" cy="293.2" r="1.15"/><circle cx="516.6" cy="303.4" r="1.15"/><circle cx="521.5" cy="310.6" r="1.15"/><circle cx="526.7" cy="283.1" r="1.15"/><circle cx="531.9" cy="318.0" r="1.15"/><circle cx="538.0" cy="298.4" r="1.15"/><circle cx="543.0" cy="303.0" r="1.15"/><circle cx="548.6" cy="290.3" r="1.15"/><circle cx="559.2" cy="323.2" r="1.15"/><circle cx="565.3" cy="280.3" r="1.15"/><circle cx="570.5" cy="318.0" r="1.15"/><circle cx="581.8" cy="302.2" r="1.15"/><circle cx="587.0" cy="290.3" r="1.15"/><circle cx="592.4" cy="312.4" r="1.15"/><circle cx="598.2" cy="300.0" r="1.15"/><circle cx="604.3" cy="305.2" r="1.15"/><circle cx="610.4" cy="289.4" r="1.15"/><circle cx="616.7" cy="312.4" r="1.15"/><circle cx="621.7" cy="316.9" r="1.15"/><circle cx="626.9" cy="287.6" r="1.15"/><circle cx="632.6" cy="302.9" r="1.15"/><circle cx="638.2" cy="298.4" r="1.15"/><circle cx="644.3" cy="315.1" r="1.15"/><circle cx="649.5" cy="305.6" r="1.15"/><circle cx="654.7" cy="288.7" r="1.15"/><circle cx="660.8" cy="324.8" r="1.15"/><circle cx="665.2" cy="303.0" r="1.15"/><circle cx="670.6" cy="286.4" r="1.15"/><circle cx="676.7" cy="316.9" r="1.15"/><circle cx="681.9" cy="305.2" r="1.15"/><circle cx="688.7" cy="296.6" r="1.15"/><circle cx="693.9" cy="295.5" r="1.15"/><circle cx="699.3" cy="307.9" r="1.15"/><circle cx="704.5" cy="321.4" r="1.15"/><circle cx="710.6" cy="293.2" r="1.15"/><circle cx="716.5" cy="303.4" r="1.15"/><circle cx="721.9" cy="307.9" r="1.15"/><circle cx="727.1" cy="293.2" r="1.15"/><circle cx="732.7" cy="304.5" r="1.15"/><circle cx="738.4" cy="310.1" r="1.15"/><circle cx="744.0" cy="303.8" r="1.15"/><circle cx="749.0" cy="288.0" r="1.15"/><circle cx="755.3" cy="296.6" r="1.15"/><circle cx="760.9" cy="305.6" r="1.15"/><circle cx="766.1" cy="280.3" r="1.15"/><circle cx="771.1" cy="289.4" r="1.15"/><circle cx="776.7" cy="278.1" r="1.15"/><circle cx="782.4" cy="278.1" r="1.15"/><circle cx="788.0" cy="292.1" r="1.15"/><circle cx="793.9" cy="294.0" r="1.15"/><circle cx="799.0" cy="290.3" r="1.15"/><circle cx="804.7" cy="306.8" r="1.15"/><circle cx="809.9" cy="287.6" r="1.15"/><circle cx="815.3" cy="314.7" r="1.15"/><circle cx="820.5" cy="300.0" r="1.15"/><circle cx="825.7" cy="290.3" r="1.15"/><circle cx="831.1" cy="309.0" r="1.15"/><circle cx="837.0" cy="315.1" r="1.15"/><circle cx="843.0" cy="285.3" r="1.15"/><circle cx="848.2" cy="306.1" r="1.15"/><circle cx="853.2" cy="295.5" r="1.15"/><circle cx="858.8" cy="314.2" r="1.15"/><circle cx="864.2" cy="305.5" r="1.15"/><circle cx="869.5" cy="296.6" r="1.15"/><circle cx="875.3" cy="324.8" r="1.15"/><circle cx="880.7" cy="303.4" r="1.15"/><circle cx="886.6" cy="296.6" r="1.15"/><circle cx="891.6" cy="312.4" r="1.15"/><circle cx="897.2" cy="323.2" r="1.15"/><circle cx="902.9" cy="299.3" r="1.15"/><circle cx="908.5" cy="311.3" r="1.15"/><circle cx="913.7" cy="301.6" r="1.15"/><circle cx="920.3" cy="292.1" r="1.15"/><circle cx="925.2" cy="324.8" r="1.15"/><circle cx="930.8" cy="302.9" r="1.15"/><circle cx="936.4" cy="307.9" r="1.15"/><circle cx="941.6" cy="318.0" r="1.15"/><circle cx="947.1" cy="301.6" r="1.15"/><circle cx="952.9" cy="304.5" r="1.15"/><circle cx="958.3" cy="284.5" r="1.15"/><circle cx="964.2" cy="312.0" r="1.15"/><circle cx="969.2" cy="305.6" r="1.15"/><circle cx="974.1" cy="287.1" r="1.15"/><circle cx="980.0" cy="288.0" r="1.15"/><circle cx="985.4" cy="287.1" r="1.15"/><circle cx="990.6" cy="309.0" r="1.15"/><circle cx="996.7" cy="281.9" r="1.15"/><circle cx="1001.9" cy="320.3" r="1.15"/><circle cx="1007.6" cy="308.3" r="1.15"/><circle cx="1012.5" cy="309.0" r="1.15"/><circle cx="1017.7" cy="301.6" r="1.15"/><circle cx="1023.8" cy="316.9" r="1.15"/><circle cx="1029.0" cy="309.7" r="1.15"/><circle cx="1034.6" cy="315.8" r="1.15"/><circle cx="1040.3" cy="304.5" r="1.15"/><circle cx="1045.5" cy="324.0" r="1.15"/><circle cx="1051.3" cy="297.7" r="1.15"/><circle cx="1056.9" cy="282.6" r="1.15"/><circle cx="1062.1" cy="281.3" r="1.15"/><circle cx="1067.5" cy="309.0" r="1.15"/><circle cx="1072.7" cy="312.0" r="1.15"/><circle cx="1078.4" cy="306.8" r="1.15"/><circle cx="1084.0" cy="312.9" r="1.15"/><circle cx="1089.7" cy="304.5" r="1.15"/><circle cx="1094.6" cy="302.9" r="1.15"/><circle cx="1100.5" cy="288.7" r="1.15"/><circle cx="1106.6" cy="306.8" r="1.15"/><circle cx="1111.8" cy="321.4" r="1.15"/><circle cx="1117.2" cy="292.1" r="1.15"/><circle cx="1122.4" cy="307.9" r="1.15"/><circle cx="1128.0" cy="287.1" r="1.15"/><circle cx="1134.4" cy="312.9" r="1.15"/><circle cx="1139.8" cy="303.4" r="1.15"/><circle cx="1145.6" cy="284.2" r="1.15"/><circle cx="1150.6" cy="320.3" r="1.15"/><circle cx="1156.3" cy="313.5" r="1.15"/><circle cx="1161.9" cy="290.3" r="1.15"/><circle cx="1167.5" cy="312.6" r="1.15"/><circle cx="1173.6" cy="298.9" r="1.15"/><circle cx="1178.5" cy="312.9" r="1.15"/><circle cx="1183.5" cy="293.9" r="1.15"/><circle cx="1189.4" cy="319.2" r="1.15"/><circle cx="1194.3" cy="305.2" r="1.15"/><circle cx="1200.0" cy="309.0" r="1.15"/><circle cx="1205.6" cy="314.7" r="1.15"/><circle cx="1210.6" cy="320.3" r="1.15"/><circle cx="1215.8" cy="302.2" r="1.15"/><circle cx="1222.6" cy="295.5" r="1.15"/><circle cx="1227.1" cy="312.4" r="1.15"/><circle cx="1232.7" cy="315.8" r="1.15"/><circle cx="1238.4" cy="280.3" r="1.15"/><circle cx="1242.9" cy="299.3" r="1.15"/><circle cx="1250.8" cy="286.4" r="1.15"/><circle cx="1255.7" cy="289.4" r="1.15"/><circle cx="1260.9" cy="294.3" r="1.15"/><circle cx="1267.0" cy="325.5" r="1.15"/><circle cx="1271.5" cy="309.0" r="1.15"/><circle cx="1276.7" cy="314.2" r="1.15"/><circle cx="1290.0" cy="306.1" r="1.15"/><circle cx="1295.6" cy="303.0" r="1.15"/><circle cx="1301.3" cy="305.7" r="1.15"/><circle cx="1306.3" cy="317.4" r="1.15"/><circle cx="1312.1" cy="292.1" r="1.15"/><circle cx="1317.6" cy="291.0" r="1.15"/><circle cx="1323.4" cy="303.0" r="1.15"/><circle cx="1328.9" cy="294.4" r="1.15"/><circle cx="1335.2" cy="315.8" r="1.15"/><circle cx="1340.2" cy="297.1" r="1.15"/><circle cx="1346.0" cy="303.0" r="1.15"/><circle cx="1351.5" cy="300.7" r="1.15"/><circle cx="1357.3" cy="309.1" r="1.15"/><circle cx="1362.8" cy="312.9" r="1.15"/><circle cx="1368.0" cy="300.7" r="1.15"/><circle cx="1373.1" cy="321.5" r="1.15"/><circle cx="1379.2" cy="288.0" r="1.15"/><circle cx="1384.9" cy="312.4" r="1.15"/><circle cx="1389.9" cy="312.9" r="1.15"/><circle cx="1396.2" cy="295.5" r="1.15"/><circle cx="1401.8" cy="292.1" r="1.15"/><circle cx="1407.5" cy="304.5" r="1.15"/><circle cx="1413.1" cy="307.9" r="1.15"/><circle cx="1418.3" cy="304.5" r="1.15"/><circle cx="1424.4" cy="304.5" r="1.15"/><circle cx="1429.6" cy="291.7" r="1.15"/><circle cx="1434.6" cy="312.4" r="1.15"/></g><polyline points="421.3,314.7 426.7,309.0 432.6,328.2 438.0,312.9 443.9,373.4 449.3,305.6 455.3,292.0 461.6,258.1 466.7,261.9 471.9,354.2 477.9,249.0 482.7,384.2 487.7,382.8 494.0,376.7 499.6,381.9 505.3,345.0 510.5,296.0 515.5,227.8 521.9,255.0 526.7,265.3 531.9,211.9 538.3,226.6 543.2,294.5 547.8,266.2 553.8,236.0 559.3,174.0 566.0,185.7 570.5,301.1 575.0,316.9 581.4,184.3 586.8,169.0 591.9,210.6 598.2,276.3 604.3,370.0 610.4,388.7 616.7,374.5 621.7,380.6 626.9,363.9 632.6,371.1 638.2,381.9 644.3,373.4 649.5,330.5 654.7,358.0 660.5,260.3 665.3,300.5 670.3,297.0 676.7,360.9 681.9,306.8 687.6,312.4 693.9,281.3 699.3,313.5 705.2,318.7 711.0,328.2 715.8,243.8 722.0,211.1 730.5,368.8 737.7,360.3 744.0,388.0 750.3,388.0 755.7,389.2 760.3,374.5 765.5,372.9 771.5,365.5 777.2,363.9 782.4,349.7 788.7,328.2 794.0,298.0 799.3,265.4 804.7,353.0 809.9,315.8 815.3,293.2 820.5,314.7 825.7,305.6 831.1,296.6 837.0,313.5 843.0,347.4 848.2,306.8 853.2,303.8 858.8,337.7 864.5,385.8 869.5,390.3 875.3,389.2 880.7,363.9 886.6,366.6 892.0,388.0 897.2,389.2 902.9,390.3 907.8,348.1 913.0,318.0 920.3,343.5 925.4,106.9 930.5,153.2 936.5,150.2 941.8,217.3 946.9,166.6 953.2,241.1 958.2,204.8 963.3,185.1 969.3,173.1 974.6,180.9 980.5,309.0 985.7,250.7 990.6,316.9 996.7,391.4 1001.9,390.3 1007.6,376.1 1013.2,287.6 1017.7,335.0 1024.5,362.1 1029.7,388.0 1034.2,388.0 1040.3,344.0 1045.0,345.1 1051.7,351.2 1056.9,281.3 1061.4,338.4 1068.2,351.9 1072.7,311.3 1078.4,308.3 1084.0,306.1 1089.2,291.6 1094.2,295.5 1100.5,333.8 1105.9,298.4 1111.8,283.1 1117.2,285.8 1121.7,287.1 1127.9,211.1 1134.4,391.4 1139.8,388.7 1145.6,363.2 1150.6,329.3 1155.6,367.7 1161.9,370.0 1167.5,372.9 1173.6,316.5 1178.5,340.6 1182.9,262.3 1189.4,287.6 1194.3,305.0 1200.0,338.4 1205.6,272.9 1210.9,260.0 1215.8,292.1 1221.9,225.6 1226.9,244.0 1233.3,264.6 1238.4,260.0 1243.0,141.9 1250.5,272.0 1255.3,348.1 1260.9,355.3 1266.6,374.5 1271.5,375.6 1276.7,367.0 1295.0,366.2 1301.7,356.5 1306.9,340.7 1312.1,355.4 1317.6,310.2 1323.4,270.0 1329.5,348.6 1335.2,296.6 1340.2,326.5 1346.0,321.5 1351.5,312.4 1357.3,340.7 1367.7,204.0 1372.5,271.8 1379.2,307.9 1384.9,306.1 1390.5,389.3 1396.2,391.5 1413.1,391.5 1418.3,390.4 1424.4,376.2 1429.6,385.9 1434.6,201.8" fill="none" stroke="#22b422" stroke-opacity="0.16" stroke-width="3.2" stroke-linejoin="round"/><g stroke="#22b422" stroke-width="2" stroke-opacity="0.85" stroke-linecap="round" fill="none"><line x1="421.3" y1="314.7" x2="426.7" y2="309.0"/><line x1="426.7" y1="309.0" x2="432.6" y2="328.2"/><line x1="432.6" y1="328.2" x2="438.0" y2="312.9"/><line x1="438.0" y1="312.9" x2="443.9" y2="373.4"/><line x1="443.9" y1="373.4" x2="449.3" y2="305.6"/><line x1="449.3" y1="305.6" x2="455.3" y2="292.0"/><line x1="455.3" y1="292.0" x2="461.6" y2="258.1"/><line x1="461.6" y1="258.1" x2="466.7" y2="261.9"/><line x1="466.7" y1="261.9" x2="471.9" y2="354.2"/><line x1="471.9" y1="354.2" x2="477.9" y2="249.0"/><line x1="477.9" y1="249.0" x2="482.7" y2="384.2"/><line x1="482.7" y1="384.2" x2="487.7" y2="382.8"/><line x1="487.7" y1="382.8" x2="494.0" y2="376.7"/><line x1="494.0" y1="376.7" x2="499.6" y2="381.9"/><line x1="499.6" y1="381.9" x2="505.3" y2="345.0"/><line x1="505.3" y1="345.0" x2="510.5" y2="296.0"/><line x1="510.5" y1="296.0" x2="515.5" y2="227.8"/><line x1="515.5" y1="227.8" x2="521.9" y2="255.0"/><line x1="521.9" y1="255.0" x2="526.7" y2="265.3"/><line x1="526.7" y1="265.3" x2="531.9" y2="211.9"/><line x1="531.9" y1="211.9" x2="538.3" y2="226.6"/><line x1="538.3" y1="226.6" x2="543.2" y2="294.5"/><line x1="543.2" y1="294.5" x2="547.8" y2="266.2"/><line x1="547.8" y1="266.2" x2="553.8" y2="236.0"/><line x1="553.8" y1="236.0" x2="559.3" y2="174.0"/><line x1="559.3" y1="174.0" x2="566.0" y2="185.7"/><line x1="566.0" y1="185.7" x2="570.5" y2="301.1"/><line x1="570.5" y1="301.1" x2="575.0" y2="316.9"/><line x1="575.0" y1="316.9" x2="581.4" y2="184.3"/><line x1="581.4" y1="184.3" x2="586.8" y2="169.0"/><line x1="586.8" y1="169.0" x2="591.9" y2="210.6"/><line x1="591.9" y1="210.6" x2="598.2" y2="276.3"/><line x1="598.2" y1="276.3" x2="604.3" y2="370.0"/><line x1="604.3" y1="370.0" x2="610.4" y2="388.7"/><line x1="610.4" y1="388.7" x2="616.7" y2="374.5"/><line x1="616.7" y1="374.5" x2="621.7" y2="380.6"/><line x1="621.7" y1="380.6" x2="626.9" y2="363.9"/><line x1="626.9" y1="363.9" x2="632.6" y2="371.1"/><line x1="632.6" y1="371.1" x2="638.2" y2="381.9"/><line x1="638.2" y1="381.9" x2="644.3" y2="373.4"/><line x1="644.3" y1="373.4" x2="649.5" y2="330.5"/><line x1="649.5" y1="330.5" x2="654.7" y2="358.0"/><line x1="654.7" y1="358.0" x2="660.5" y2="260.3"/><line x1="660.5" y1="260.3" x2="665.3" y2="300.5"/><line x1="665.3" y1="300.5" x2="670.3" y2="297.0"/><line x1="670.3" y1="297.0" x2="676.7" y2="360.9"/><line x1="676.7" y1="360.9" x2="681.9" y2="306.8"/><line x1="681.9" y1="306.8" x2="687.6" y2="312.4"/><line x1="687.6" y1="312.4" x2="693.9" y2="281.3"/><line x1="693.9" y1="281.3" x2="699.3" y2="313.5"/><line x1="699.3" y1="313.5" x2="705.2" y2="318.7"/><line x1="705.2" y1="318.7" x2="711.0" y2="328.2"/><line x1="711.0" y1="328.2" x2="715.8" y2="243.8"/><line x1="715.8" y1="243.8" x2="722.0" y2="211.1"/><line x1="722.0" y1="211.1" x2="730.5" y2="368.8"/><line x1="730.5" y1="368.8" x2="737.7" y2="360.3"/><line x1="737.7" y1="360.3" x2="744.0" y2="388.0"/><line x1="744.0" y1="388.0" x2="750.3" y2="388.0"/><line x1="750.3" y1="388.0" x2="755.7" y2="389.2"/><line x1="755.7" y1="389.2" x2="760.3" y2="374.5"/><line x1="760.3" y1="374.5" x2="765.5" y2="372.9"/><line x1="765.5" y1="372.9" x2="771.5" y2="365.5"/><line x1="771.5" y1="365.5" x2="777.2" y2="363.9"/><line x1="777.2" y1="363.9" x2="782.4" y2="349.7"/><line x1="782.4" y1="349.7" x2="788.7" y2="328.2"/><line x1="788.7" y1="328.2" x2="794.0" y2="298.0"/><line x1="794.0" y1="298.0" x2="799.3" y2="265.4"/><line x1="799.3" y1="265.4" x2="804.7" y2="353.0"/><line x1="804.7" y1="353.0" x2="809.9" y2="315.8"/><line x1="809.9" y1="315.8" x2="815.3" y2="293.2"/><line x1="815.3" y1="293.2" x2="820.5" y2="314.7"/><line x1="820.5" y1="314.7" x2="825.7" y2="305.6"/><line x1="825.7" y1="305.6" x2="831.1" y2="296.6"/><line x1="831.1" y1="296.6" x2="837.0" y2="313.5"/><line x1="837.0" y1="313.5" x2="843.0" y2="347.4"/><line x1="843.0" y1="347.4" x2="848.2" y2="306.8"/><line x1="848.2" y1="306.8" x2="853.2" y2="303.8"/><line x1="853.2" y1="303.8" x2="858.8" y2="337.7"/><line x1="858.8" y1="337.7" x2="864.5" y2="385.8"/><line x1="864.5" y1="385.8" x2="869.5" y2="390.3"/><line x1="869.5" y1="390.3" x2="875.3" y2="389.2"/><line x1="875.3" y1="389.2" x2="880.7" y2="363.9"/><line x1="880.7" y1="363.9" x2="886.6" y2="366.6"/><line x1="886.6" y1="366.6" x2="892.0" y2="388.0"/><line x1="892.0" y1="388.0" x2="897.2" y2="389.2"/><line x1="897.2" y1="389.2" x2="902.9" y2="390.3"/><line x1="902.9" y1="390.3" x2="907.8" y2="348.1"/><line x1="907.8" y1="348.1" x2="913.0" y2="318.0"/><line x1="913.0" y1="318.0" x2="920.3" y2="343.5"/><line x1="920.3" y1="343.5" x2="925.4" y2="106.9"/><line x1="925.4" y1="106.9" x2="930.5" y2="153.2"/><line x1="930.5" y1="153.2" x2="936.5" y2="150.2"/><line x1="936.5" y1="150.2" x2="941.8" y2="217.3"/><line x1="941.8" y1="217.3" x2="946.9" y2="166.6"/><line x1="946.9" y1="166.6" x2="953.2" y2="241.1"/><line x1="953.2" y1="241.1" x2="958.2" y2="204.8"/><line x1="958.2" y1="204.8" x2="963.3" y2="185.1"/><line x1="963.3" y1="185.1" x2="969.3" y2="173.1"/><line x1="969.3" y1="173.1" x2="974.6" y2="180.9"/><line x1="974.6" y1="180.9" x2="980.5" y2="309.0"/><line x1="980.5" y1="309.0" x2="985.7" y2="250.7"/><line x1="985.7" y1="250.7" x2="990.6" y2="316.9"/><line x1="990.6" y1="316.9" x2="996.7" y2="391.4"/><line x1="996.7" y1="391.4" x2="1001.9" y2="390.3"/><line x1="1001.9" y1="390.3" x2="1007.6" y2="376.1"/><line x1="1007.6" y1="376.1" x2="1013.2" y2="287.6"/><line x1="1013.2" y1="287.6" x2="1017.7" y2="335.0"/><line x1="1017.7" y1="335.0" x2="1024.5" y2="362.1"/><line x1="1024.5" y1="362.1" x2="1029.7" y2="388.0"/><line x1="1029.7" y1="388.0" x2="1034.2" y2="388.0"/><line x1="1034.2" y1="388.0" x2="1040.3" y2="344.0"/><line x1="1040.3" y1="344.0" x2="1045.0" y2="345.1"/><line x1="1045.0" y1="345.1" x2="1051.7" y2="351.2"/><line x1="1051.7" y1="351.2" x2="1056.9" y2="281.3"/><line x1="1056.9" y1="281.3" x2="1061.4" y2="338.4"/><line x1="1061.4" y1="338.4" x2="1068.2" y2="351.9"/><line x1="1068.2" y1="351.9" x2="1072.7" y2="311.3"/><line x1="1072.7" y1="311.3" x2="1078.4" y2="308.3"/><line x1="1078.4" y1="308.3" x2="1084.0" y2="306.1"/><line x1="1084.0" y1="306.1" x2="1089.2" y2="291.6"/><line x1="1089.2" y1="291.6" x2="1094.2" y2="295.5"/><line x1="1094.2" y1="295.5" x2="1100.5" y2="333.8"/><line x1="1100.5" y1="333.8" x2="1105.9" y2="298.4"/><line x1="1105.9" y1="298.4" x2="1111.8" y2="283.1"/><line x1="1111.8" y1="283.1" x2="1117.2" y2="285.8"/><line x1="1117.2" y1="285.8" x2="1121.7" y2="287.1"/><line x1="1121.7" y1="287.1" x2="1127.9" y2="211.1"/><line x1="1127.9" y1="211.1" x2="1134.4" y2="391.4"/><line x1="1134.4" y1="391.4" x2="1139.8" y2="388.7"/><line x1="1139.8" y1="388.7" x2="1145.6" y2="363.2"/><line x1="1145.6" y1="363.2" x2="1150.6" y2="329.3"/><line x1="1150.6" y1="329.3" x2="1155.6" y2="367.7"/><line x1="1155.6" y1="367.7" x2="1161.9" y2="370.0"/><line x1="1161.9" y1="370.0" x2="1167.5" y2="372.9"/><line x1="1167.5" y1="372.9" x2="1173.6" y2="316.5"/><line x1="1173.6" y1="316.5" x2="1178.5" y2="340.6"/><line x1="1178.5" y1="340.6" x2="1182.9" y2="262.3"/><line x1="1182.9" y1="262.3" x2="1189.4" y2="287.6"/><line x1="1189.4" y1="287.6" x2="1194.3" y2="305.0"/><line x1="1194.3" y1="305.0" x2="1200.0" y2="338.4"/><line x1="1200.0" y1="338.4" x2="1205.6" y2="272.9"/><line x1="1205.6" y1="272.9" x2="1210.9" y2="260.0"/><line x1="1210.9" y1="260.0" x2="1215.8" y2="292.1"/><line x1="1215.8" y1="292.1" x2="1221.9" y2="225.6"/><line x1="1221.9" y1="225.6" x2="1226.9" y2="244.0"/><line x1="1226.9" y1="244.0" x2="1233.3" y2="264.6"/><line x1="1233.3" y1="264.6" x2="1238.4" y2="260.0"/><line x1="1238.4" y1="260.0" x2="1243.0" y2="141.9"/><line x1="1243.0" y1="141.9" x2="1250.5" y2="272.0"/><line x1="1250.5" y1="272.0" x2="1255.3" y2="348.1"/><line x1="1255.3" y1="348.1" x2="1260.9" y2="355.3"/><line x1="1260.9" y1="355.3" x2="1266.6" y2="374.5"/><line x1="1266.6" y1="374.5" x2="1271.5" y2="375.6"/><line x1="1271.5" y1="375.6" x2="1276.7" y2="367.0"/><line x1="1276.7" y1="367.0" x2="1295.0" y2="366.2"/><line x1="1295.0" y1="366.2" x2="1301.7" y2="356.5"/><line x1="1301.7" y1="356.5" x2="1306.9" y2="340.7"/><line x1="1306.9" y1="340.7" x2="1312.1" y2="355.4"/><line x1="1312.1" y1="355.4" x2="1317.6" y2="310.2"/><line x1="1317.6" y1="310.2" x2="1323.4" y2="270.0"/><line x1="1323.4" y1="270.0" x2="1329.5" y2="348.6"/><line x1="1329.5" y1="348.6" x2="1335.2" y2="296.6"/><line x1="1335.2" y1="296.6" x2="1340.2" y2="326.5"/><line x1="1340.2" y1="326.5" x2="1346.0" y2="321.5"/><line x1="1346.0" y1="321.5" x2="1351.5" y2="312.4"/><line x1="1351.5" y1="312.4" x2="1357.3" y2="340.7"/><line x1="1357.3" y1="340.7" x2="1367.7" y2="204.0"/><line x1="1367.7" y1="204.0" x2="1372.5" y2="271.8"/><line x1="1372.5" y1="271.8" x2="1379.2" y2="307.9"/><line x1="1379.2" y1="307.9" x2="1384.9" y2="306.1"/><line x1="1384.9" y1="306.1" x2="1390.5" y2="389.3"/><line x1="1390.5" y1="389.3" x2="1396.2" y2="391.5"/><line x1="1396.2" y1="391.5" x2="1413.1" y2="391.5"/><line x1="1413.1" y1="391.5" x2="1418.3" y2="390.4"/><line x1="1418.3" y1="390.4" x2="1424.4" y2="376.2"/><line x1="1424.4" y1="376.2" x2="1429.6" y2="385.9"/><line x1="1429.6" y1="385.9" x2="1434.6" y2="201.8"/></g><g fill="#22b422" fill-opacity="0.45"><circle cx="421.3" cy="314.7" r="1.15"/><circle cx="426.7" cy="309.0" r="1.15"/><circle cx="432.6" cy="328.2" r="1.15"/><circle cx="438.0" cy="312.9" r="1.15"/><circle cx="443.9" cy="373.4" r="1.15"/><circle cx="449.3" cy="305.6" r="1.15"/><circle cx="455.3" cy="292.0" r="1.15"/><circle cx="461.6" cy="258.1" r="1.15"/><circle cx="466.7" cy="261.9" r="1.15"/><circle cx="471.9" cy="354.2" r="1.15"/><circle cx="477.9" cy="249.0" r="1.15"/><circle cx="482.7" cy="384.2" r="1.15"/><circle cx="487.7" cy="382.8" r="1.15"/><circle cx="494.0" cy="376.7" r="1.15"/><circle cx="499.6" cy="381.9" r="1.15"/><circle cx="505.3" cy="345.0" r="1.15"/><circle cx="510.5" cy="296.0" r="1.15"/><circle cx="515.5" cy="227.8" r="1.15"/><circle cx="521.9" cy="255.0" r="1.15"/><circle cx="526.7" cy="265.3" r="1.15"/><circle cx="531.9" cy="211.9" r="1.15"/><circle cx="538.3" cy="226.6" r="1.15"/><circle cx="543.2" cy="294.5" r="1.15"/><circle cx="547.8" cy="266.2" r="1.15"/><circle cx="553.8" cy="236.0" r="1.15"/><circle cx="559.3" cy="174.0" r="1.15"/><circle cx="566.0" cy="185.7" r="1.15"/><circle cx="570.5" cy="301.1" r="1.15"/><circle cx="575.0" cy="316.9" r="1.15"/><circle cx="581.4" cy="184.3" r="1.15"/><circle cx="586.8" cy="169.0" r="1.15"/><circle cx="591.9" cy="210.6" r="1.15"/><circle cx="598.2" cy="276.3" r="1.15"/><circle cx="604.3" cy="370.0" r="1.15"/><circle cx="610.4" cy="388.7" r="1.15"/><circle cx="616.7" cy="374.5" r="1.15"/><circle cx="621.7" cy="380.6" r="1.15"/><circle cx="626.9" cy="363.9" r="1.15"/><circle cx="632.6" cy="371.1" r="1.15"/><circle cx="638.2" cy="381.9" r="1.15"/><circle cx="644.3" cy="373.4" r="1.15"/><circle cx="649.5" cy="330.5" r="1.15"/><circle cx="654.7" cy="358.0" r="1.15"/><circle cx="660.5" cy="260.3" r="1.15"/><circle cx="665.3" cy="300.5" r="1.15"/><circle cx="670.3" cy="297.0" r="1.15"/><circle cx="676.7" cy="360.9" r="1.15"/><circle cx="681.9" cy="306.8" r="1.15"/><circle cx="687.6" cy="312.4" r="1.15"/><circle cx="693.9" cy="281.3" r="1.15"/><circle cx="699.3" cy="313.5" r="1.15"/><circle cx="705.2" cy="318.7" r="1.15"/><circle cx="711.0" cy="328.2" r="1.15"/><circle cx="715.8" cy="243.8" r="1.15"/><circle cx="722.0" cy="211.1" r="1.15"/><circle cx="730.5" cy="368.8" r="1.15"/><circle cx="737.7" cy="360.3" r="1.15"/><circle cx="744.0" cy="388.0" r="1.15"/><circle cx="750.3" cy="388.0" r="1.15"/><circle cx="755.7" cy="389.2" r="1.15"/><circle cx="760.3" cy="374.5" r="1.15"/><circle cx="765.5" cy="372.9" r="1.15"/><circle cx="771.5" cy="365.5" r="1.15"/><circle cx="777.2" cy="363.9" r="1.15"/><circle cx="782.4" cy="349.7" r="1.15"/><circle cx="788.7" cy="328.2" r="1.15"/><circle cx="794.0" cy="298.0" r="1.15"/><circle cx="799.3" cy="265.4" r="1.15"/><circle cx="804.7" cy="353.0" r="1.15"/><circle cx="809.9" cy="315.8" r="1.15"/><circle cx="815.3" cy="293.2" r="1.15"/><circle cx="820.5" cy="314.7" r="1.15"/><circle cx="825.7" cy="305.6" r="1.15"/><circle cx="831.1" cy="296.6" r="1.15"/><circle cx="837.0" cy="313.5" r="1.15"/><circle cx="843.0" cy="347.4" r="1.15"/><circle cx="848.2" cy="306.8" r="1.15"/><circle cx="853.2" cy="303.8" r="1.15"/><circle cx="858.8" cy="337.7" r="1.15"/><circle cx="864.5" cy="385.8" r="1.15"/><circle cx="869.5" cy="390.3" r="1.15"/><circle cx="875.3" cy="389.2" r="1.15"/><circle cx="880.7" cy="363.9" r="1.15"/><circle cx="886.6" cy="366.6" r="1.15"/><circle cx="892.0" cy="388.0" r="1.15"/><circle cx="897.2" cy="389.2" r="1.15"/><circle cx="902.9" cy="390.3" r="1.15"/><circle cx="907.8" cy="348.1" r="1.15"/><circle cx="913.0" cy="318.0" r="1.15"/><circle cx="920.3" cy="343.5" r="1.15"/><circle cx="925.4" cy="106.9" r="1.15"/><circle cx="930.5" cy="153.2" r="1.15"/><circle cx="936.5" cy="150.2" r="1.15"/><circle cx="941.8" cy="217.3" r="1.15"/><circle cx="946.9" cy="166.6" r="1.15"/><circle cx="953.2" cy="241.1" r="1.15"/><circle cx="958.2" cy="204.8" r="1.15"/><circle cx="963.3" cy="185.1" r="1.15"/><circle cx="969.3" cy="173.1" r="1.15"/><circle cx="974.6" cy="180.9" r="1.15"/><circle cx="980.5" cy="309.0" r="1.15"/><circle cx="985.7" cy="250.7" r="1.15"/><circle cx="990.6" cy="316.9" r="1.15"/><circle cx="996.7" cy="391.4" r="1.15"/><circle cx="1001.9" cy="390.3" r="1.15"/><circle cx="1007.6" cy="376.1" r="1.15"/><circle cx="1013.2" cy="287.6" r="1.15"/><circle cx="1017.7" cy="335.0" r="1.15"/><circle cx="1024.5" cy="362.1" r="1.15"/><circle cx="1029.7" cy="388.0" r="1.15"/><circle cx="1034.2" cy="388.0" r="1.15"/><circle cx="1040.3" cy="344.0" r="1.15"/><circle cx="1045.0" cy="345.1" r="1.15"/><circle cx="1051.7" cy="351.2" r="1.15"/><circle cx="1056.9" cy="281.3" r="1.15"/><circle cx="1061.4" cy="338.4" r="1.15"/><circle cx="1068.2" cy="351.9" r="1.15"/><circle cx="1072.7" cy="311.3" r="1.15"/><circle cx="1078.4" cy="308.3" r="1.15"/><circle cx="1084.0" cy="306.1" r="1.15"/><circle cx="1089.2" cy="291.6" r="1.15"/><circle cx="1094.2" cy="295.5" r="1.15"/><circle cx="1100.5" cy="333.8" r="1.15"/><circle cx="1105.9" cy="298.4" r="1.15"/><circle cx="1111.8" cy="283.1" r="1.15"/><circle cx="1117.2" cy="285.8" r="1.15"/><circle cx="1121.7" cy="287.1" r="1.15"/><circle cx="1127.9" cy="211.1" r="1.15"/><circle cx="1134.4" cy="391.4" r="1.15"/><circle cx="1139.8" cy="388.7" r="1.15"/><circle cx="1145.6" cy="363.2" r="1.15"/><circle cx="1150.6" cy="329.3" r="1.15"/><circle cx="1155.6" cy="367.7" r="1.15"/><circle cx="1161.9" cy="370.0" r="1.15"/><circle cx="1167.5" cy="372.9" r="1.15"/><circle cx="1173.6" cy="316.5" r="1.15"/><circle cx="1178.5" cy="340.6" r="1.15"/><circle cx="1182.9" cy="262.3" r="1.15"/><circle cx="1189.4" cy="287.6" r="1.15"/><circle cx="1194.3" cy="305.0" r="1.15"/><circle cx="1200.0" cy="338.4" r="1.15"/><circle cx="1205.6" cy="272.9" r="1.15"/><circle cx="1210.9" cy="260.0" r="1.15"/><circle cx="1215.8" cy="292.1" r="1.15"/><circle cx="1221.9" cy="225.6" r="1.15"/><circle cx="1226.9" cy="244.0" r="1.15"/><circle cx="1233.3" cy="264.6" r="1.15"/><circle cx="1238.4" cy="260.0" r="1.15"/><circle cx="1243.0" cy="141.9" r="1.15"/><circle cx="1250.5" cy="272.0" r="1.15"/><circle cx="1255.3" cy="348.1" r="1.15"/><circle cx="1260.9" cy="355.3" r="1.15"/><circle cx="1266.6" cy="374.5" r="1.15"/><circle cx="1271.5" cy="375.6" r="1.15"/><circle cx="1276.7" cy="367.0" r="1.15"/><circle cx="1295.0" cy="366.2" r="1.15"/><circle cx="1301.7" cy="356.5" r="1.15"/><circle cx="1306.9" cy="340.7" r="1.15"/><circle cx="1312.1" cy="355.4" r="1.15"/><circle cx="1317.6" cy="310.2" r="1.15"/><circle cx="1323.4" cy="270.0" r="1.15"/><circle cx="1329.5" cy="348.6" r="1.15"/><circle cx="1335.2" cy="296.6" r="1.15"/><circle cx="1340.2" cy="326.5" r="1.15"/><circle cx="1346.0" cy="321.5" r="1.15"/><circle cx="1351.5" cy="312.4" r="1.15"/><circle cx="1357.3" cy="340.7" r="1.15"/><circle cx="1367.7" cy="204.0" r="1.15"/><circle cx="1372.5" cy="271.8" r="1.15"/><circle cx="1379.2" cy="307.9" r="1.15"/><circle cx="1384.9" cy="306.1" r="1.15"/><circle cx="1390.5" cy="389.3" r="1.15"/><circle cx="1396.2" cy="391.5" r="1.15"/><circle cx="1413.1" cy="391.5" r="1.15"/><circle cx="1418.3" cy="390.4" r="1.15"/><circle cx="1424.4" cy="376.2" r="1.15"/><circle cx="1429.6" cy="385.9" r="1.15"/><circle cx="1434.6" cy="201.8" r="1.15"/></g><rect x="538.3" y="444.5" width="728.6" height="23.8" fill="#fff" stroke="#c2c2c2" stroke-width="1.3"/><line x1="542.7" y1="456.9" x2="560.6" y2="456.9" stroke="#3cbe3c" stroke-width="2.4" stroke-linecap="round"/><g font-family="DejaVu Sans, sans-serif" word-spacing="1.0" stroke="#868686" stroke-width="0.15"><text transform="translate(565.80,460.80) scale(1.0,1)" text-anchor="start" font-size="12.6" fill="#868686" letter-spacing="0.8" >Agent Memory Allocation</text></g><line x1="750.3" y1="456.9" x2="768.1" y2="456.9" stroke="#2c2cbe" stroke-width="2.4" stroke-linecap="round"/><g font-family="DejaVu Sans, sans-serif" word-spacing="1.0" stroke="#868686" stroke-width="0.15"><text transform="translate(772.90,460.80) scale(1.0,1)" text-anchor="start" font-size="12.6" fill="#868686" letter-spacing="0.8" >Agent Memory Live</text></g><line x1="917.9" y1="456.9" x2="935.9" y2="456.9" stroke="#be28be" stroke-width="2.4" stroke-linecap="round"/><g font-family="DejaVu Sans, sans-serif" word-spacing="1.0" stroke="#868686" stroke-width="0.15"><text transform="translate(940.10,460.80) scale(1.0,1)" text-anchor="start" font-size="12.6" fill="#868686" letter-spacing="0.8" >Agent Memory Usage</text></g><line x1="1100.3" y1="456.9" x2="1118.2" y2="456.9" stroke="#32bec6" stroke-width="2.4" stroke-linecap="round"/><g font-family="DejaVu Sans, sans-serif" word-spacing="1.0" stroke="#868686" stroke-width="0.15"><text transform="translate(1123.20,460.80) scale(1.0,1)" text-anchor="start" font-size="12.6" fill="#868686" letter-spacing="0.8" >Agent Memory Free</text></g></g><text x="185.8" y="525.8" font-family="Liberation Sans, Arial, sans-serif" font-size="15" letter-spacing="-1.25" fill="#333">Agent Memory Allocation</text><text x="185.8" y="545.8" font-family="Liberation Sans, Arial, sans-serif" font-size="15.4" font-weight="bold" letter-spacing="-1.45" fill="#222">7.07 MB</text><text x="428.6" y="525.8" font-family="Liberation Sans, Arial, sans-serif" font-size="15" letter-spacing="-1.25" fill="#333">Agent Memory Live</text><text x="428.6" y="545.8" font-family="Liberation Sans, Arial, sans-serif" font-size="15.4" font-weight="bold" letter-spacing="-1.45" fill="#222">11.35 MB</text><text x="671.6" y="525.8" font-family="Liberation Sans, Arial, sans-serif" font-size="15" letter-spacing="-1.25" fill="#333">Agent Memory Usage</text><text x="671.6" y="545.8" font-family="Liberation Sans, Arial, sans-serif" font-size="15.4" font-weight="bold" letter-spacing="-1.45" fill="#222">18.23 MB</text><text x="914.8" y="525.8" font-family="Liberation Sans, Arial, sans-serif" font-size="15" letter-spacing="-1.25" fill="#333">Agent Memory Free</text><text x="914.8" y="545.8" font-family="Liberation Sans, Arial, sans-serif" font-size="15.4" font-weight="bold" letter-spacing="-1.45" fill="#222">6.87 MB</text></svg>
</body></html>
